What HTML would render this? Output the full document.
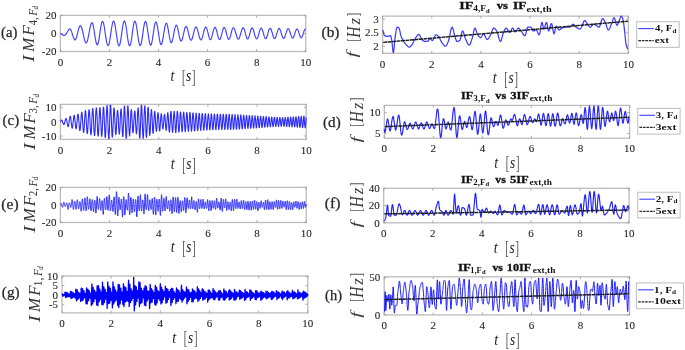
<!DOCTYPE html>
<html><head><meta charset="utf-8"><title>figure</title><style>
html,body{margin:0;padding:0;background:#fff;}
svg{display:block;filter:blur(0.35px);}
text{font-family:"Liberation Serif",serif;fill:#262626;}
.tk{font-size:11px;stroke:#262626;stroke-width:0.1px;}
.pl{stroke:#262626;stroke-width:0.25px;}
.tt{stroke:#111;stroke-width:0.3px;}
</style></head>
<body><svg width="685" height="350" viewBox="0 0 685 350">
<rect width="685" height="350" fill="#fff"/>
<rect x="60.4" y="15.4" width="245.30" height="36.10" fill="none" stroke="#bcbcbc" stroke-width="1.3"/>
<path d="M60.40 51.5v-2.4M60.40 15.4v2.4" stroke="#9a9a9a" stroke-width="0.8"/>
<text x="60.40" y="65.70" text-anchor="middle" class="tk">0</text>
<path d="M109.46 51.5v-2.4M109.46 15.4v2.4" stroke="#9a9a9a" stroke-width="0.8"/>
<text x="109.46" y="65.70" text-anchor="middle" class="tk">2</text>
<path d="M158.52 51.5v-2.4M158.52 15.4v2.4" stroke="#9a9a9a" stroke-width="0.8"/>
<text x="158.52" y="65.70" text-anchor="middle" class="tk">4</text>
<path d="M207.58 51.5v-2.4M207.58 15.4v2.4" stroke="#9a9a9a" stroke-width="0.8"/>
<text x="207.58" y="65.70" text-anchor="middle" class="tk">6</text>
<path d="M256.64 51.5v-2.4M256.64 15.4v2.4" stroke="#9a9a9a" stroke-width="0.8"/>
<text x="256.64" y="65.70" text-anchor="middle" class="tk">8</text>
<path d="M305.70 51.5v-2.4M305.70 15.4v2.4" stroke="#9a9a9a" stroke-width="0.8"/>
<text x="305.70" y="65.70" text-anchor="middle" class="tk">10</text>
<path d="M60.4 51.50h2.4M305.7 51.50h-2.4" stroke="#9a9a9a" stroke-width="0.8"/>
<text x="56.50" y="55.20" text-anchor="end" class="tk">-20</text>
<path d="M60.4 33.45h2.4M305.7 33.45h-2.4" stroke="#9a9a9a" stroke-width="0.8"/>
<text x="56.50" y="37.15" text-anchor="end" class="tk">0</text>
<path d="M60.4 15.40h2.4M305.7 15.40h-2.4" stroke="#9a9a9a" stroke-width="0.8"/>
<text x="56.50" y="19.10" text-anchor="end" class="tk">20</text>
<text x="170.38" y="81.30" style="font-size:16.5px;font-style:italic;" textLength="3.96" lengthAdjust="spacingAndGlyphs">t</text>
<text x="181.88" y="82.70" style="font-size:17.9px;fill:#4a4a4a;" textLength="3.40" lengthAdjust="spacingAndGlyphs">[</text>
<text x="186.07" y="81.30" style="font-size:16.5px;font-style:italic;" textLength="5.17" lengthAdjust="spacingAndGlyphs">s</text>
<text x="192.03" y="82.70" style="font-size:17.9px;fill:#4a4a4a;" textLength="3.48" lengthAdjust="spacingAndGlyphs">]</text>
<rect x="60.4" y="104.4" width="245.80" height="35.00" fill="none" stroke="#bcbcbc" stroke-width="1.3"/>
<path d="M60.40 139.4v-2.4M60.40 104.4v2.4" stroke="#9a9a9a" stroke-width="0.8"/>
<text x="60.40" y="153.60" text-anchor="middle" class="tk">0</text>
<path d="M109.56 139.4v-2.4M109.56 104.4v2.4" stroke="#9a9a9a" stroke-width="0.8"/>
<text x="109.56" y="153.60" text-anchor="middle" class="tk">2</text>
<path d="M158.72 139.4v-2.4M158.72 104.4v2.4" stroke="#9a9a9a" stroke-width="0.8"/>
<text x="158.72" y="153.60" text-anchor="middle" class="tk">4</text>
<path d="M207.88 139.4v-2.4M207.88 104.4v2.4" stroke="#9a9a9a" stroke-width="0.8"/>
<text x="207.88" y="153.60" text-anchor="middle" class="tk">6</text>
<path d="M257.04 139.4v-2.4M257.04 104.4v2.4" stroke="#9a9a9a" stroke-width="0.8"/>
<text x="257.04" y="153.60" text-anchor="middle" class="tk">8</text>
<path d="M306.20 139.4v-2.4M306.20 104.4v2.4" stroke="#9a9a9a" stroke-width="0.8"/>
<text x="306.20" y="153.60" text-anchor="middle" class="tk">10</text>
<path d="M60.4 136.01h2.4M306.2 136.01h-2.4" stroke="#9a9a9a" stroke-width="0.8"/>
<text x="56.50" y="139.71" text-anchor="end" class="tk">-10</text>
<path d="M60.4 121.90h2.4M306.2 121.90h-2.4" stroke="#9a9a9a" stroke-width="0.8"/>
<text x="56.50" y="125.60" text-anchor="end" class="tk">0</text>
<path d="M60.4 107.79h2.4M306.2 107.79h-2.4" stroke="#9a9a9a" stroke-width="0.8"/>
<text x="56.50" y="111.49" text-anchor="end" class="tk">10</text>
<text x="170.63" y="169.20" style="font-size:16.5px;font-style:italic;" textLength="3.96" lengthAdjust="spacingAndGlyphs">t</text>
<text x="182.13" y="170.60" style="font-size:17.9px;fill:#4a4a4a;" textLength="3.40" lengthAdjust="spacingAndGlyphs">[</text>
<text x="186.32" y="169.20" style="font-size:16.5px;font-style:italic;" textLength="5.17" lengthAdjust="spacingAndGlyphs">s</text>
<text x="192.28" y="170.60" style="font-size:17.9px;fill:#4a4a4a;" textLength="3.48" lengthAdjust="spacingAndGlyphs">]</text>
<rect x="60.4" y="187.4" width="245.80" height="35.10" fill="none" stroke="#bcbcbc" stroke-width="1.3"/>
<path d="M60.40 222.5v-2.4M60.40 187.4v2.4" stroke="#9a9a9a" stroke-width="0.8"/>
<text x="60.40" y="236.70" text-anchor="middle" class="tk">0</text>
<path d="M109.56 222.5v-2.4M109.56 187.4v2.4" stroke="#9a9a9a" stroke-width="0.8"/>
<text x="109.56" y="236.70" text-anchor="middle" class="tk">2</text>
<path d="M158.72 222.5v-2.4M158.72 187.4v2.4" stroke="#9a9a9a" stroke-width="0.8"/>
<text x="158.72" y="236.70" text-anchor="middle" class="tk">4</text>
<path d="M207.88 222.5v-2.4M207.88 187.4v2.4" stroke="#9a9a9a" stroke-width="0.8"/>
<text x="207.88" y="236.70" text-anchor="middle" class="tk">6</text>
<path d="M257.04 222.5v-2.4M257.04 187.4v2.4" stroke="#9a9a9a" stroke-width="0.8"/>
<text x="257.04" y="236.70" text-anchor="middle" class="tk">8</text>
<path d="M306.20 222.5v-2.4M306.20 187.4v2.4" stroke="#9a9a9a" stroke-width="0.8"/>
<text x="306.20" y="236.70" text-anchor="middle" class="tk">10</text>
<path d="M60.4 222.50h2.4M306.2 222.50h-2.4" stroke="#9a9a9a" stroke-width="0.8"/>
<text x="56.50" y="226.20" text-anchor="end" class="tk">-20</text>
<path d="M60.4 204.95h2.4M306.2 204.95h-2.4" stroke="#9a9a9a" stroke-width="0.8"/>
<text x="56.50" y="208.65" text-anchor="end" class="tk">0</text>
<path d="M60.4 187.40h2.4M306.2 187.40h-2.4" stroke="#9a9a9a" stroke-width="0.8"/>
<text x="56.50" y="191.10" text-anchor="end" class="tk">20</text>
<text x="170.63" y="252.30" style="font-size:16.5px;font-style:italic;" textLength="3.96" lengthAdjust="spacingAndGlyphs">t</text>
<text x="182.13" y="253.70" style="font-size:17.9px;fill:#4a4a4a;" textLength="3.40" lengthAdjust="spacingAndGlyphs">[</text>
<text x="186.32" y="252.30" style="font-size:16.5px;font-style:italic;" textLength="5.17" lengthAdjust="spacingAndGlyphs">s</text>
<text x="192.28" y="253.70" style="font-size:17.9px;fill:#4a4a4a;" textLength="3.48" lengthAdjust="spacingAndGlyphs">]</text>
<rect x="62.0" y="276.0" width="245.80" height="36.90" fill="none" stroke="#bcbcbc" stroke-width="1.3"/>
<path d="M62.00 312.9v-2.4M62.00 276.0v2.4" stroke="#9a9a9a" stroke-width="0.8"/>
<text x="62.00" y="327.10" text-anchor="middle" class="tk">0</text>
<path d="M111.16 312.9v-2.4M111.16 276.0v2.4" stroke="#9a9a9a" stroke-width="0.8"/>
<text x="111.16" y="327.10" text-anchor="middle" class="tk">2</text>
<path d="M160.32 312.9v-2.4M160.32 276.0v2.4" stroke="#9a9a9a" stroke-width="0.8"/>
<text x="160.32" y="327.10" text-anchor="middle" class="tk">4</text>
<path d="M209.48 312.9v-2.4M209.48 276.0v2.4" stroke="#9a9a9a" stroke-width="0.8"/>
<text x="209.48" y="327.10" text-anchor="middle" class="tk">6</text>
<path d="M258.64 312.9v-2.4M258.64 276.0v2.4" stroke="#9a9a9a" stroke-width="0.8"/>
<text x="258.64" y="327.10" text-anchor="middle" class="tk">8</text>
<path d="M307.80 312.9v-2.4M307.80 276.0v2.4" stroke="#9a9a9a" stroke-width="0.8"/>
<text x="307.80" y="327.10" text-anchor="middle" class="tk">10</text>
<path d="M62.0 304.33h2.4M307.8 304.33h-2.4" stroke="#9a9a9a" stroke-width="0.8"/>
<text x="58.10" y="308.03" text-anchor="end" class="tk">-5</text>
<path d="M62.0 295.01h2.4M307.8 295.01h-2.4" stroke="#9a9a9a" stroke-width="0.8"/>
<text x="58.10" y="298.71" text-anchor="end" class="tk">0</text>
<path d="M62.0 285.69h2.4M307.8 285.69h-2.4" stroke="#9a9a9a" stroke-width="0.8"/>
<text x="58.10" y="289.39" text-anchor="end" class="tk">5</text>
<path d="M62.0 276.37h2.4M307.8 276.37h-2.4" stroke="#9a9a9a" stroke-width="0.8"/>
<text x="58.10" y="280.07" text-anchor="end" class="tk">10</text>
<text x="172.23" y="342.70" style="font-size:16.5px;font-style:italic;" textLength="3.96" lengthAdjust="spacingAndGlyphs">t</text>
<text x="183.73" y="344.10" style="font-size:17.9px;fill:#4a4a4a;" textLength="3.40" lengthAdjust="spacingAndGlyphs">[</text>
<text x="187.92" y="342.70" style="font-size:16.5px;font-style:italic;" textLength="5.17" lengthAdjust="spacingAndGlyphs">s</text>
<text x="193.88" y="344.10" style="font-size:17.9px;fill:#4a4a4a;" textLength="3.48" lengthAdjust="spacingAndGlyphs">]</text>
<rect x="382.6" y="16.1" width="245.80" height="37.20" fill="none" stroke="#bcbcbc" stroke-width="1.3"/>
<path d="M382.60 53.3v-2.4M382.60 16.1v2.4" stroke="#9a9a9a" stroke-width="0.8"/>
<text x="382.60" y="67.50" text-anchor="middle" class="tk">0</text>
<path d="M431.76 53.3v-2.4M431.76 16.1v2.4" stroke="#9a9a9a" stroke-width="0.8"/>
<text x="431.76" y="67.50" text-anchor="middle" class="tk">2</text>
<path d="M480.92 53.3v-2.4M480.92 16.1v2.4" stroke="#9a9a9a" stroke-width="0.8"/>
<text x="480.92" y="67.50" text-anchor="middle" class="tk">4</text>
<path d="M530.08 53.3v-2.4M530.08 16.1v2.4" stroke="#9a9a9a" stroke-width="0.8"/>
<text x="530.08" y="67.50" text-anchor="middle" class="tk">6</text>
<path d="M579.24 53.3v-2.4M579.24 16.1v2.4" stroke="#9a9a9a" stroke-width="0.8"/>
<text x="579.24" y="67.50" text-anchor="middle" class="tk">8</text>
<path d="M628.40 53.3v-2.4M628.40 16.1v2.4" stroke="#9a9a9a" stroke-width="0.8"/>
<text x="628.40" y="67.50" text-anchor="middle" class="tk">10</text>
<path d="M382.6 46.30h2.4M628.4 46.30h-2.4" stroke="#9a9a9a" stroke-width="0.8"/>
<text x="378.70" y="50.00" text-anchor="end" class="tk">2</text>
<path d="M382.6 32.75h2.4M628.4 32.75h-2.4" stroke="#9a9a9a" stroke-width="0.8"/>
<text x="378.70" y="36.45" text-anchor="end" class="tk">2.5</text>
<path d="M382.6 19.19h2.4M628.4 19.19h-2.4" stroke="#9a9a9a" stroke-width="0.8"/>
<text x="378.70" y="22.89" text-anchor="end" class="tk">3</text>
<text x="492.83" y="83.10" style="font-size:16.5px;font-style:italic;" textLength="3.96" lengthAdjust="spacingAndGlyphs">t</text>
<text x="504.33" y="84.50" style="font-size:17.9px;fill:#4a4a4a;" textLength="3.40" lengthAdjust="spacingAndGlyphs">[</text>
<text x="508.52" y="83.10" style="font-size:16.5px;font-style:italic;" textLength="5.17" lengthAdjust="spacingAndGlyphs">s</text>
<text x="514.48" y="84.50" style="font-size:17.9px;fill:#4a4a4a;" textLength="3.48" lengthAdjust="spacingAndGlyphs">]</text>
<rect x="384.3" y="105.4" width="245.30" height="32.80" fill="none" stroke="#bcbcbc" stroke-width="1.3"/>
<path d="M384.30 138.2v-2.4M384.30 105.4v2.4" stroke="#9a9a9a" stroke-width="0.8"/>
<text x="384.30" y="152.40" text-anchor="middle" class="tk">0</text>
<path d="M433.36 138.2v-2.4M433.36 105.4v2.4" stroke="#9a9a9a" stroke-width="0.8"/>
<text x="433.36" y="152.40" text-anchor="middle" class="tk">2</text>
<path d="M482.42 138.2v-2.4M482.42 105.4v2.4" stroke="#9a9a9a" stroke-width="0.8"/>
<text x="482.42" y="152.40" text-anchor="middle" class="tk">4</text>
<path d="M531.48 138.2v-2.4M531.48 105.4v2.4" stroke="#9a9a9a" stroke-width="0.8"/>
<text x="531.48" y="152.40" text-anchor="middle" class="tk">6</text>
<path d="M580.54 138.2v-2.4M580.54 105.4v2.4" stroke="#9a9a9a" stroke-width="0.8"/>
<text x="580.54" y="152.40" text-anchor="middle" class="tk">8</text>
<path d="M629.60 138.2v-2.4M629.60 105.4v2.4" stroke="#9a9a9a" stroke-width="0.8"/>
<text x="629.60" y="152.40" text-anchor="middle" class="tk">10</text>
<path d="M384.3 133.57h2.4M629.6 133.57h-2.4" stroke="#9a9a9a" stroke-width="0.8"/>
<text x="380.40" y="137.27" text-anchor="end" class="tk">5</text>
<path d="M384.3 112.55h2.4M629.6 112.55h-2.4" stroke="#9a9a9a" stroke-width="0.8"/>
<text x="380.40" y="116.25" text-anchor="end" class="tk">10</text>
<text x="494.28" y="168.00" style="font-size:16.5px;font-style:italic;" textLength="3.96" lengthAdjust="spacingAndGlyphs">t</text>
<text x="505.78" y="169.40" style="font-size:17.9px;fill:#4a4a4a;" textLength="3.40" lengthAdjust="spacingAndGlyphs">[</text>
<text x="509.97" y="168.00" style="font-size:16.5px;font-style:italic;" textLength="5.17" lengthAdjust="spacingAndGlyphs">s</text>
<text x="515.93" y="169.40" style="font-size:17.9px;fill:#4a4a4a;" textLength="3.48" lengthAdjust="spacingAndGlyphs">]</text>
<rect x="383.7" y="188.3" width="245.40" height="34.50" fill="none" stroke="#bcbcbc" stroke-width="1.3"/>
<path d="M383.70 222.8v-2.4M383.70 188.3v2.4" stroke="#9a9a9a" stroke-width="0.8"/>
<text x="383.70" y="237.00" text-anchor="middle" class="tk">0</text>
<path d="M432.78 222.8v-2.4M432.78 188.3v2.4" stroke="#9a9a9a" stroke-width="0.8"/>
<text x="432.78" y="237.00" text-anchor="middle" class="tk">2</text>
<path d="M481.86 222.8v-2.4M481.86 188.3v2.4" stroke="#9a9a9a" stroke-width="0.8"/>
<text x="481.86" y="237.00" text-anchor="middle" class="tk">4</text>
<path d="M530.94 222.8v-2.4M530.94 188.3v2.4" stroke="#9a9a9a" stroke-width="0.8"/>
<text x="530.94" y="237.00" text-anchor="middle" class="tk">6</text>
<path d="M580.02 222.8v-2.4M580.02 188.3v2.4" stroke="#9a9a9a" stroke-width="0.8"/>
<text x="580.02" y="237.00" text-anchor="middle" class="tk">8</text>
<path d="M629.10 222.8v-2.4M629.10 188.3v2.4" stroke="#9a9a9a" stroke-width="0.8"/>
<text x="629.10" y="237.00" text-anchor="middle" class="tk">10</text>
<path d="M383.7 222.80h2.4M629.1 222.80h-2.4" stroke="#9a9a9a" stroke-width="0.8"/>
<text x="379.80" y="226.50" text-anchor="end" class="tk">0</text>
<path d="M383.7 205.55h2.4M629.1 205.55h-2.4" stroke="#9a9a9a" stroke-width="0.8"/>
<text x="379.80" y="209.25" text-anchor="end" class="tk">20</text>
<path d="M383.7 188.30h2.4M629.1 188.30h-2.4" stroke="#9a9a9a" stroke-width="0.8"/>
<text x="379.80" y="192.00" text-anchor="end" class="tk">40</text>
<text x="493.73" y="252.60" style="font-size:16.5px;font-style:italic;" textLength="3.96" lengthAdjust="spacingAndGlyphs">t</text>
<text x="505.23" y="254.00" style="font-size:17.9px;fill:#4a4a4a;" textLength="3.40" lengthAdjust="spacingAndGlyphs">[</text>
<text x="509.42" y="252.60" style="font-size:16.5px;font-style:italic;" textLength="5.17" lengthAdjust="spacingAndGlyphs">s</text>
<text x="515.38" y="254.00" style="font-size:17.9px;fill:#4a4a4a;" textLength="3.48" lengthAdjust="spacingAndGlyphs">]</text>
<rect x="384.2" y="276.8" width="245.40" height="38.10" fill="none" stroke="#bcbcbc" stroke-width="1.3"/>
<path d="M384.20 314.9v-2.4M384.20 276.8v2.4" stroke="#9a9a9a" stroke-width="0.8"/>
<text x="384.20" y="329.10" text-anchor="middle" class="tk">0</text>
<path d="M433.28 314.9v-2.4M433.28 276.8v2.4" stroke="#9a9a9a" stroke-width="0.8"/>
<text x="433.28" y="329.10" text-anchor="middle" class="tk">2</text>
<path d="M482.36 314.9v-2.4M482.36 276.8v2.4" stroke="#9a9a9a" stroke-width="0.8"/>
<text x="482.36" y="329.10" text-anchor="middle" class="tk">4</text>
<path d="M531.44 314.9v-2.4M531.44 276.8v2.4" stroke="#9a9a9a" stroke-width="0.8"/>
<text x="531.44" y="329.10" text-anchor="middle" class="tk">6</text>
<path d="M580.52 314.9v-2.4M580.52 276.8v2.4" stroke="#9a9a9a" stroke-width="0.8"/>
<text x="580.52" y="329.10" text-anchor="middle" class="tk">8</text>
<path d="M629.60 314.9v-2.4M629.60 276.8v2.4" stroke="#9a9a9a" stroke-width="0.8"/>
<text x="629.60" y="329.10" text-anchor="middle" class="tk">10</text>
<path d="M384.2 314.90h2.4M629.6 314.90h-2.4" stroke="#9a9a9a" stroke-width="0.8"/>
<text x="380.30" y="318.60" text-anchor="end" class="tk">0</text>
<path d="M384.2 277.55h2.4M629.6 277.55h-2.4" stroke="#9a9a9a" stroke-width="0.8"/>
<text x="380.30" y="281.25" text-anchor="end" class="tk">50</text>
<text x="494.23" y="344.70" style="font-size:16.5px;font-style:italic;" textLength="3.96" lengthAdjust="spacingAndGlyphs">t</text>
<text x="505.73" y="346.10" style="font-size:17.9px;fill:#4a4a4a;" textLength="3.40" lengthAdjust="spacingAndGlyphs">[</text>
<text x="509.92" y="344.70" style="font-size:16.5px;font-style:italic;" textLength="5.17" lengthAdjust="spacingAndGlyphs">s</text>
<text x="515.88" y="346.10" style="font-size:17.9px;fill:#4a4a4a;" textLength="3.48" lengthAdjust="spacingAndGlyphs">]</text>
<path transform="scale(0.1)" vector-effect="non-scaling-stroke" d="M604 334l2 1 3 1 2 2 3 1 2 2 3 2 2 2 3 1 2 2 3 2 2 2 2 1 3 1 2 1 3 0 2 0 3 0 2-2 3-1 2-2 3-3 2-3 2-3 3-4 2-4 3-4 2-4 3-5 2-5 3-4 2-4 3-4 2-4 2-3 3-3 2-2 3-2 2 0 3 1 2 1 3 3 2 3 3 5 2 5 2 6 3 7 2 7 3 8 2 8 3 8 2 8 3 7 2 8 3 6 2 6 3 5 2 4 2 2 3 2 2 0 3-2 2-3 3-4 2-6 3-6 2-8 3-9 2-9 2-10 3-10 2-10 3-11 2-10 3-9 2-9 3-7 2-7 3-5 2-4 2-3 3 0 2 0 3 2 2 3 3 5 2 5 3 8 2 8 3 9 2 10 2 10 3 11 2 12 3 11 2 11 3 11 2 11 3 10 2 9 3 8 2 6 2 6 3 3 2 3 3 0 2-1 3-3 2-4 3-6 2-8 3-8 2-11 2-11 3-12 2-12 3-14 2-13 3-13 2-13 3-13 2-12 3-11 2-10 2-9 3-7 2-6 3-3 2-2 3 0 2 2 3 5 2 7 3 9 2 11 2 12 3 14 2 15 3 15 2 16 3 16 2 16 3 16 2 14 3 13 2 12 2 10 3 8 2 6 3 3 2 2 3-2 2-3 3-6 2-9 3-10 2-12 3-14 2-15 2-16 3-16 2-17 3-17 2-17 3-16 2-14 3-14 2-11 3-10 2-7 2-5 3-3 2 0 3 2 2 5 3 7 2 8 3 11 2 12 3 14 2 15 2 16 3 17 2 17 3 16 2 17 3 15 2 15 3 13 2 12 3 10 2 8 2 6 3 4 2 1 3 0 2-4 3-5 2-8 3-10 2-11 3-14 2-14 2-16 3-16 2-17 3-17 2-17 3-17 2-15 3-15 2-13 3-11 2-10 2-7 3-5 2-3 3 0 2 2 3 4 2 7 3 9 2 12 3 13 2 15 2 15 3 17 2 18 3 18 2 17 3 17 2 17 3 15 2 13 3 12 2 10 2 8 3 6 2 2 3 1 2-2 3-5 2-7 3-9 2-11 3-14 2-14 2-16 3-17 2-18 3-18 2-17 3-18 2-16 3-15 2-14 3-12 2-10 3-8 2-5 2-3 3 0 2 2 3 5 2 8 3 9 2 12 3 14 2 16 3 17 2 17 2 18 3 19 2 18 3 17 2 16 3 15 2 13 3 12 2 9 3 6 2 4 2 1 3-1 2-4 3-6 2-9 3-11 2-13 3-15 2-16 3-18 2-18 2-18 3-18 2-17 3-17 2-15 3-14 2-12 3-10 2-7 3-5 2-2 2 0 3 3 2 5 3 8 2 10 3 12 2 14 3 16 2 16 3 17 2 18 2 18 3 17 2 17 3 16 2 14 3 13 2 10 3 9 2 6 3 4 2 1 2-1 3-4 2-7 3-8 2-11 3-13 2-14 3-16 2-16 3-18 2-17 2-18 3-17 2-16 3-15 2-13 3-12 2-10 3-7 2-5 3-3 2 0 2 2 3 6 2 7 3 10 2 12 3 13 2 16 3 16 2 17 3 18 2 17 3 17 2 17 2 15 3 14 2 12 3 11 2 8 3 5 2 3 3 1 2-2 3-5 2-7 2-9 3-11 2-13 3-15 2-16 3-17 2-17 3-17 2-17 3-16 2-15 2-14 3-12 2-11 3-8 2-6 3-3 2-1 3 1 2 4 3 6 2 9 2 11 3 12 2 14 3 15 2 16 3 16 2 17 3 16 2 16 3 15 2 14 2 13 3 10 2 9 3 6 2 5 3 1 2-1 3-3 2-6 3-7 2-10 2-11 3-13 2-14 3-15 2-16 3-15 2-16 3-15 2-14 3-14 2-12 2-10 3-8 2-7 3-4 2-2 3 0 2 2 3 5 2 7 3 9 2 11 2 13 3 13 2 15 3 15 2 15 3 15 2 14 3 14 2 12 3 11 2 8 2 7 3 5 2 3 3 0 2-2 3-4 2-6 3-8 2-10 3-11 2-12 3-13 2-14 2-13 3-14 2-13 3-12 2-11 3-10 2-9 3-6 2-5 3-2 2-1 2 2 3 3 2 5 3 7 2 9 3 10 2 11 3 12 2 12 3 13 2 12 2 12 3 12 2 10 3 9 2 8 3 6 2 4 3 3 2 0 3-1 2-3 2-5 3-7 2-8 3-9 2-10 3-11 2-12 3-11 2-12 3-11 2-10 2-9 3-9 2-7 3-5 2-4 3-2 2-1 3 2 2 2 3 5 2 5 2 8 3 8 2 9 3 10 2 11 3 10 2 11 3 11 2 9 3 10 2 8 2 6 3 6 2 4 3 3 2 0 3 0 2-3 3-4 2-5 3-7 2-8 2-9 3-9 2-10 3-11 2-10 3-10 2-10 3-9 2-8 3-7 2-5 3-4 2-3 2-1 3 0 2 2 3 4 2 5 3 7 2 7 3 9 2 9 3 10 2 10 2 11 3 10 2 9 3 9 2 8 3 7 2 5 3 4 2 3 3 1 2 0 2-3 3-3 2-5 3-7 2-7 3-9 2-9 3-10 2-10 3-10 2-10 2-9 3-9 2-7 3-7 2-5 3-4 2-3 3-1 2 1 3 2 2 4 2 6 3 7 2 8 3 10 2 10 3 10 2 11 3 10 2 10 3 9 2 8 2 7 3 6 2 4 3 2 2 1 3-1 2-3 3-5 2-6 3-7 2-8 2-10 3-10 2-10 3-10 2-10 3-10 2-9 3-8 2-6 3-5 2-4 2-2 3 0 2 2 3 3 2 5 3 6 2 8 3 8 2 10 3 9 2 11 2 10 3 10 2 9 3 8 2 8 3 6 2 5 3 3 2 1 3 0 2-2 3-4 2-5 2-7 3-7 2-9 3-9 2-10 3-10 2-10 3-10 2-9 3-8 2-7 2-5 3-5 2-2 3-1 2 1 3 2 2 4 3 5 2 7 3 8 2 9 2 9 3 10 2 10 3 10 2 9 3 9 2 7 3 7 2 5 3 4 2 2 2 0 3-1 2-3 3-4 2-6 3-7 2-8 3-9 2-9 3-10 2-9 2-10 3-9 2-8 3-7 2-6 3-5 2-3 3-2 2 0 3 1 2 3 2 4 3 5 2 7 3 7 2 8 3 9 2 9 3 9 2 9 3 8 2 8 2 8 3 6 2 5 3 4 2 3 3 1 2 0 3-1 2-3 3-4 2-5 2-7 3-7 2-8 3-8 2-9 3-9 2-9 3-8 2-8 3-7 2-7 2-5 3-4 2-2 3-2 2 1 3 1 2 4 3 5 2 6 3 7 2 9 3 9 2 9 2 10 3 10 2 9 3 8 2 7 3 7 2 5 3 3 2 2 3 0 2-2 2-3 3-5 2-6 3-7 2-8 3-9 2-9 3-10 2-9 3-9 2-9 2-7 3-6 2-5 3-4 2-2 3 0 2 1 3 3 2 4 3 6 2 6 2 8 3 9 2 9 3 9 2 9 3 9 2 8 3 8 2 6 3 6 2 4 2 2 3 1 2 0 3-2 2-3 3-5 2-6 3-7 2-8 3-9 2-9 2-9 3-9 2-8 3-8 2-7 3-6 2-5 3-3 2-2 3-1 2 1 2 3 3 4 2 6 3 7 2 8 3 8 2 9 3 9 2 9 3 9 2 8 2 7 3 7 2 5 3 3 2 2 3 1 2-1 3-3 2-4 3-5 2-6 2-8 3-8 2-9 3-9 2-9 3-9 2-8 3-7 2-6 3-5 2-4 3-3 2 0 2 0 3 3 2 3 3 5 2 7 3 7 2 8 3 8 2 9 3 9 2 8 2 8 3 8 2 6 3 6 2 4 3 2 2 1 3 0 2-2 3-3 2-4 2-6 3-7 2-7 3-9 2-8 3-9 2-8 3-8 2-8 3-7 2-5 2-5 3-3 2-2 3 0 2 1 3 3 2 4 3 5 2 6 3 8 2 7 2 9 3 8 2 8 3 9 2 7 3 7 2 6 3 5 2 3 3 3 2 1 2-1 3-2 2-3 3-4 2-6 3-6 2-8 3-8 2-8 3-8 2-8 2-8 3-7 2-6 3-5 2-4 3-3 2-2 3 0 2 1 3 3 2 3 2 6 3 6 2 7 3 7 2 8 3 8 2 8 3 8 2 7 3 7 2 5 2 4 3 4 2 1 3 1 2-1 3-3 2-3 3-5 2-6 3-6 2-8 3-7 2-8 2-8 3-8 2-7 3-6 2-5 3-5 2-3 3-2 2 0 3 1 2 2 2 4 3 5 2 7 3 7 2 8 3 8 2 8 3 8 2 8 3 6 2 6 2 5 3 3 2 2 3 0 2-1 3-3 2-4 3-6 2-6 3-8 2-7 2-8 3-8 2-8 3-7 2-6 3-6 2-4 3-2 2-2 3 1 2 1" fill="none" stroke="#4040ff" stroke-width="1.15" stroke-linejoin="round"/>
<path transform="scale(0.1)" vector-effect="non-scaling-stroke" d="M604 1217l1-2 1-3 1-2 1-2 2-2 1-2 1-1 1-1 1-1 1 0 1 0 1 0 2 1 1 2 1 2 1 2 1 2 1 3 1 3 1 4 1 3 2 4 1 3 1 3 1 3 1 3 1 2 1 1 1 2 2 0 1 0 1 0 1-2 1-2 1-2 1-3 1-4 1-4 2-4 1-5 1-4 1-5 1-4 1-4 1-4 1-4 2-3 1-3 1-1 1-1 1 0 1 1 1 2 1 3 1 4 2 4 1 6 1 6 1 6 1 7 1 6 1 7 1 6 2 6 1 6 1 4 1 3 1 3 1 1 1-1 1-1 1-3 2-4 1-6 1-6 1-8 1-8 1-9 1-9 1-9 2-8 1-8 1-8 1-6 1-5 1-3 1-2 1 0 1 2 2 3 1 5 1 6 1 8 1 8 1 10 1 10 1 10 2 11 1 10 1 9 1 8 1 8 1 5 1 4 1 2 1 1 2-2 1-4 1-5 1-7 1-9 1-10 1-11 1-11 2-12 1-11 1-11 1-10 1-9 1-7 1-6 1-3 1-2 2 1 1 3 1 5 1 7 1 9 1 10 1 11 1 12 2 12 1 13 1 12 1 11 1 10 1 8 1 6 1 4 1 2 2 0 1-3 1-4 1-7 1-9 1-10 1-12 1-13 2-13 1-14 1-13 1-12 1-12 1-9 1-8 1-5 1-2 2 0 1 2 1 6 1 7 1 10 1 12 1 14 1 14 2 16 1 15 1 15 1 14 1 12 1 10 1 9 1 5 1 3 2-1 1-3 1-7 1-9 1-12 1-13 1-16 1-16 2-18 1-17 1-16 1-15 1-14 1-11 1-8 1-5 1-2 2 1 1 5 1 8 1 11 1 14 1 16 1 18 1 19 2 19 1 19 1 18 1 16 1 14 1 11 1 8 1 5 1 0 2-3 1-7 1-11 1-14 1-16 1-19 1-21 1-21 2-21 1-20 1-18 1-17 1-13 1-10 1-6 1-2 2 2 1 6 1 10 1 14 1 16 1 19 1 21 1 22 1 22 2 22 1 20 1 18 1 15 1 12 1 8 1 3 1 0 2-5 1-9 1-13 1-16 1-19 1-22 1-22 1-23 1-23 2-22 1-19 1-17 1-14 1-10 1-5 1-1 1 4 2 8 1 12 1 16 1 19 1 22 1 23 1 25 1 24 1 23 2 22 1 18 1 16 1 11 1 7 1 3 1-3 1-7 2-12 1-16 1-19 1-23 1-24 1-26 1-25 1-25 1-23 2-20 1-17 1-13 1-8 1-4 1 2 1 7 1 11 2 16 1 20 1 22 1 25 1 26 1 27 1 25 1 24 1 22 2 18 1 14 1 9 1 5 1-1 1-6 1-11 1-16 2-19 1-23 1-25 1-27 1-27 1-27 1-25 1-22 1-19 2-15 1-11 1-5 1 1 1 5 1 11 1 15 1 20 2 23 1 26 1 27 1 28 1 27 1 26 1 23 1 20 1 15 2 11 1 6 1 0 1-6 1-10 1-16 1-20 1-23 2-26 1-27 1-28 1-28 1-26 1-23 1-21 1-15 1-11 2-6 1 0 1 5 1 10 1 16 1 20 1 23 1 26 2 28 1 28 1 28 1 26 1 24 1 20 1 16 1 11 1 6 2 0 1-5 1-11 1-16 1-20 1-23 1-27 1-28 2-28 1-28 1-27 1-24 1-21 1-16 1-12 1-6 1 0 2 5 1 11 1 16 1 21 1 25 1 28 1 29 1 31 2 29 1 29 1 25 1 22 1 16 1 12 1 6 1 0 1-7 2-12 1-18 1-23 1-27 1-29 1-32 1-32 1-31 2-30 1-26 1-22 1-17 1-11 1-5 1 2 1 8 1 15 2 19 1 25 1 28 1 31 1 33 1 33 1 32 1 29 2 26 1 22 1 16 1 10 1 4 1-3 1-10 1-16 1-21 2-26 1-30 1-32 1-33 1-34 1-32 1-29 1-26 2-21 1-14 1-8 1 0 1 5 1 12 1 18 1 23 1 27 2 30 1 32 1 32 1 31 1 29 1 26 1 22 1 17 2 11 1 5 1-1 1-7 1-13 1-17 1-23 1-25 1-28 2-29 1-30 1-28 1-26 1-22 1-19 1-13 1-9 2-2 1 2 1 8 1 14 1 17 1 22 1 24 1 26 1 27 2 26 1 25 1 23 1 19 1 16 1 11 1 6 1 0 2-4 1-9 1-14 1-18 1-21 1-23 1-24 1-24 1-24 2-22 1-20 1-16 1-12 1-8 1-4 1 2 1 5 2 9 1 14 1 17 1 20 1 22 1 24 1 23 1 24 1 21 2 19 1 16 1 12 1 7 1 3 1-3 1-7 1-12 2-17 1-19 1-23 1-24 1-26 1-25 1-24 1-21 1-19 2-15 1-11 1-6 1-1 1 5 1 10 1 16 1 19 2 23 1 26 1 28 1 28 1 28 1 26 1 23 1 19 1 15 2 9 1 3 1-2 1-9 1-15 1-20 1-24 1-28 2-31 1-31 1-32 1-29 1-27 1-22 1-18 1-12 1-5 2 1 1 7 1 14 1 20 1 24 1 29 1 31 1 33 2 33 1 32 1 29 1 25 1 21 1 15 1 8 1 1 1-5 2-12 1-19 1-24 1-28 1-32 1-34 1-34 1-34 2-31 1-27 1-21 1-15 1-9 1-2 1 5 1 11 1 18 2 22 1 26 1 29 1 31 1 31 1 30 1 28 1 24 2 20 1 15 1 9 1 4 1-3 1-9 1-13 1-19 1-22 2-24 1-27 1-27 1-26 1-25 1-22 1-18 1-15 2-9 1-5 1 1 1 6 1 10 1 15 1 19 1 21 1 24 2 24 1 24 1 22 1 21 1 17 1 14 1 9 1 5 2 0 1-4 1-9 1-12 1-17 1-18 1-20 1-22 1-22 2-21 1-21 1-18 1-15 1-11 1-7 1-2 1 2 2 7 1 11 1 16 1 18 1 22 1 23 1 24 1 23 2 22 1 20 1 17 1 13 1 8 1 3 1-2 1-6 1-11 2-16 1-20 1-23 1-25 1-27 1-27 1-26 1-24 2-20 1-16 1-11 1-5 1 1 1 7 1 12 1 19 1 23 2 27 1 30 1 32 1 32 1 30 1 28 1 24 1 19 2 13 1 6 1-1 1-8 1-15 1-21 1-27 1-32 1-35 2-35 1-35 1-33 1-29 1-24 1-19 1-12 1-5 2 2 1 10 1 16 1 23 1 27 1 32 1 34 1 35 1 34 2 33 1 29 1 24 1 18 1 12 1 5 1-3 1-9 2-17 1-22 1-28 1-31 1-34 1-34 1-34 1-32 1-28 2-23 1-18 1-11 1-4 1 4 1 10 1 17 1 22 2 27 1 31 1 32 1 34 1 32 1 30 1 27 1 22 1 16 2 10 1 3 1-4 1-10 1-17 1-22 1-27 1-29 2-32 1-32 1-31 1-28 1-25 1-20 1-15 1-8 1-2 2 5 1 11 1 17 1 22 1 25 1 29 1 29 1 30 2 29 1 26 1 22 1 18 1 12 1 7 1 0 1-6 1-11 2-16 1-21 1-24 1-27 1-27 1-28 1-26 1-23 2-20 1-15 1-10 1-5 1 1 1 6 1 11 1 17 1 19 2 23 1 25 1 25 1 25 1 24 1 21 1 17 1 13 2 9 1 3 1-2 1-7 1-12 1-16 1-19 1-22 1-23 2-23 1-23 1-21 1-19 1-14 1-11 1-6 1-2 2 3 1 8 1 12 1 16 1 18 1 20 1 22 1 21 1 20 2 19 1 16 1 12 1 9 1 4 1 0 1-4 1-8 2-12 1-15 1-17 1-20 1-20 1-20 1-19 1-17 1-15 2-11 1-7 1-3 1 1 1 5 1 10 1 13 1 15 2 18 1 20 1 19 1 20 1 17 1 16 1 13 1 9 1 6 2 1 1-2 1-7 1-11 1-14 1-16 1-18 1-19 2-18 1-18 1-15 1-13 1-11 1-6 1-3 1 1 1 5 2 8 1 11 1 13 1 15 1 16 1 16 1 16 1 15 2 12 1 11 1 7 1 4 1 1 1-1 1-5 1-7 1-11 2-12 1-15 1-15 1-16 1-15 1-15 1-13 1-10 2-7 1-4 1 0 1 3 1 6 1 10 1 13 1 15 1 16 2 18 1 17 1 16 1 15 1 12 1 10 1 6 1 2 2-1 1-6 1-9 1-13 1-15 1-17 1-19 1-19 1-18 2-17 1-15 1-13 1-8 1-5 1 0 1 4 1 9 2 12 1 16 1 18 1 20 1 22 1 21 1 20 1 17 1 15 2 11 1 7 1 2 1-2 1-8 1-12 1-16 1-20 2-22 1-22 1-23 1-22 1-20 1-16 1-13 1-8 1-3 2 1 1 7 1 11 1 16 1 18 1 22 1 22 1 24 2 22 1 21 1 17 1 15 1 9 1 5 1 0 1-5 1-9 2-15 1-18 1-20 1-23 1-23 1-23 1-22 1-19 2-15 1-12 1-6 1-2 1 4 1 9 1 13 1 17 1 20 2 22 1 24 1 23 1 22 1 20 1 17 1 13 1 7 2 3 1-2 1-7 1-12 1-17 1-19 1-22 1-24 1-23 2-23 1-21 1-18 1-13 1-10 1-3 1 1 1 7 2 11 1 15 1 19 1 22 1 23 1 23 1 23 1 20 1 18 2 14 1 9 1 5 1-1 1-5 1-10 1-14 1-18 2-20 1-22 1-22 1-22 1-20 1-18 1-14 1-10 1-6 2 0 1 4 1 9 1 13 1 16 1 20 1 21 1 22 2 22 1 20 1 18 1 14 1 11 1 6 1 2 1-4 1-8 2-13 1-16 1-19 1-21 1-21 1-22 1-20 1-18 2-15 1-11 1-7 1-2 1 3 1 8 1 12 1 16 2 18 1 21 1 21 1 22 1 20 1 18 1 15 1 12 1 7 2 2 1-3 1-7 1-12 1-15 1-19 1-20 1-21 2-22 1-20 1-18 1-15 1-11 1-7 1-3 1 3 1 7 2 11 1 16 1 18 1 20 1 21 1 21 1 20 1 18 2 15 1 12 1 6 1 3 1-3 1-7 1-11 1-16 1-18 2-20 1-21 1-21 1-19 1-18 1-15 1-11 1-7 2-2 1 3 1 7 1 12 1 15 1 18 1 20 1 21 1 21 2 19 1 18 1 14 1 11 1 6 1 2 1-3 1-8 2-12 1-15 1-18 1-20 1-21 1-20 1-20 1-17 1-14 2-10 1-5 1-1 1 3 1 8 1 12 1 16 1 18 2 20 1 21 1 20 1 19 1 16 1 13 1 10 1 5 1 0 2-4 1-9 1-12 1-16 1-18 1-20 1-21 1-20 2-18 1-16 1-12 1-9 1-4 1 0 1 5 1 10 1 13 2 16 1 19 1 20 1 20 1 19 1 18 1 15 1 12 2 7 1 3 1-1 1-6 1-10 1-14 1-17 1-19 1-19 2-20 1-19 1-17 1-14 1-11 1-6 1-2 1 3 2 7 1 11 1 14 1 17 1 19 1 20 1 19 1 18 1 16 2 13 1 10 1 5 1 1 1-4 1-8 1-12 1-16 2-17 1-19 1-20 1-19 1-17 1-15 1-12 1-8 1-3 2 0 1 6 1 9 1 13 1 16 1 18 1 19 1 19 2 18 1 17 1 14 1 10 1 6 1 2 1-2 1-7 1-10 2-14 1-17 1-18 1-19 1-19 1-17 1-16 1-12 2-9 1-4 1-1 1 4 1 8 1 12 1 15 1 17 1 19 2 18 1 19 1 16 1 14 1 11 1 7 1 3 1-2 2-5 1-10 1-13 1-16 1-17 1-19 1-18 1-18 1-15 2-13 1-9 1-5 1-1 1 4 1 7 1 11 1 14 2 17 1 18 1 19 1 18 1 16 1 14 1 11 1 7 1 3 2-1 1-5 1-9 1-13 1-16 1-17 1-18 1-19 2-17 1-15 1-13 1-9 1-5 1-1 1 3 1 8 1 11 2 14 1 17 1 18 1 18 1 18 1 16 1 14 1 11 2 7 1 3 1-2 1-5 1-10 1-13 1-15 1-18 1-18 2-19 1-17 1-15 1-12 1-8 1-5 1 0 1 4 2 8 1 11 1 15 1 17 1 18 1 18 1 18 1 16 1 13 2 10 1 6 1 2 1-2 1-6 1-11 1-13 1-16 2-18 1-19 1-18 1-16 1-15 1-11 1-7 1-4 1 1 2 5 1 9 1 13 1 15 1 17 1 18 1 19 1 17 2 15 1 12 1 9 1 5 1 0 1-3 1-8 1-12 1-14 2-17 1-18 1-18 1-18 1-15 1-14 1-10 1-6 2-1 1 2 1 7 1 10 1 14 1 16 1 18 1 18 1 18 2 16 1 14 1 11 1 7 1 3 1-1 1-6 1-9 2-13 1-16 1-17 1-19 1-18 1-16 1-15 1-12 1-8 2-4 1 1 1 5 1 8 1 13 1 15 1 17 1 18 2 18 1 17 1 15 1 12 1 9 1 5 1 0 1-4 1-8 2-11 1-15 1-16 1-18 1-19 1-17 1-15 1-13 2-10 1-5 1-1 1 3 1 7 1 11 1 14 1 17 1 18 2 18 1 17 1 16 1 13 1 10 1 6 1 2 1-3 2-6 1-11 1-14 1-16 1-17 1-19 1-17 1-16 1-14 2-10 1-6 1-3 1 2 1 7 1 10 1 13 1 16 2 18 1 18 1 18 1 16 1 13 1 11 1 7 1 2 1-1 2-6 1-10 1-14 1-15 1-18 1-18 1-17 1-17 2-14 1-10 1-7 1-3 1 2 1 5 1 10 1 13 2 16 1 17 1 18 1 18 1 16 1 14 1 11 1 6 1 3 2-1 1-6 1-10 1-13 1-15 1-17 1-18 1-17 2-16 1-14 1-11 1-7 1-2 1 1 1 6 1 9 1 13 2 16 1 17 1 17 1 18 1 15 1 14 1 10 1 7 2 3 1-2 1-6 1-10 1-13 1-15 1-17 1-17 1-17 2-16 1-13 1-10 1-6 1-3 1 2 1 6 1 10 2 13 1 15 1 17 1 18 1 16 1 16 1 12 1 10 1 6 2 2 1-3 1-6 1-10 1-13 1-16 1-16 1-17 2-17 1-15 1-12 1-9 1-6 1-1 1 3 1 7 1 10 2 14 1 15 1 17 1 17 1 16 1 14 1 12 1 8 2 5 1 1 1-4 1-7 1-11 1-13 1-16 1-17 1-16 2-16 1-14 1-11 1-8 1-4 1 0 1 5 1 7 2 12 1 14 1 15 1 17 1 16 1 15 1 14 1 10 1 7 2 3 1-1 1-5 1-8 1-12 1-14 1-16 1-16 2-17 1-14 1-13 1-9 1-6 1-2 1 1 1 6 1 10 2 12 1 14 1 16 1 16 1 16 1 14 1 12 1 8 2 5 1 1 1-2 1-7 1-10 1-13 1-15 1-16 1-16 2-15 1-13 1-11 1-7 1-4 1 0 1 4 1 8 2 10 1 14 1 15 1 16 1 15 1 15 1 12 1 10 1 6 2 3 1-2 1-5 1-8 1-12 1-14 1-15 1-16 2-15 1-14 1-11 1-9 1-5 1-1 1 3 1 6 1 10 2 12 1 14 1 16 1 15 1 15 1 13 1 10 1 7 2 4 1-1 1-4 1-7 1-11 1-13 1-14 1-16 1-15 2-14 1-11 1-9 1-6 1-2 1 2 1 5 1 9 2 11 1 14 1 15 1 15 1 14 1 13 1 11 1 8 1 4 2 0 1-3 1-7 1-10 1-12 1-14 1-15 1-15 2-14 1-12 1-9 1-6 1-2 1 1 1 5 1 8 1 11 2 13 1 14 1 15 1 14 1 13 1 11 1 7 1 4 2 1 1-3 1-6 1-10 1-12 1-13 1-15 1-14 1-13 2-12 1-9 1-6 1-2 1 1 1 5 1 8 1 10 2 13 1 14 1 14 1 14 1 12 1 10 1 7 1 4 1 1 2-3 1-7 1-9 1-11 1-14 1-13 1-14 1-13 2-11 1-8 1-6 1-2 1 2 1 4 1 8 1 11 1 12 2 13 1 14 1 13 1 12 1 9 1 7 1 3 1 0 2-3 1-7 1-9 1-11 1-13 1-14 1-13 1-12 1-10 2-8 1-4 1-2 1 2 1 6 1 8 1 10 1 12 2 13 1 14 1 12 1 11 1 8 1 6 1 2 1 0 1-4 2-7 1-10 1-11 1-13 1-13 1-12 1-11 1-10 2-6 1-4 1 0 1 3 1 6 1 8 1 11 1 12 1 12 2 13 1 11 1 10 1 7 1 5 1 1 1-1 1-5 2-8 1-10 1-11 1-13 1-12 1-12 1-10 1-8 1-5 2-3 1 1 1 4 1 7 1 9 1 11 1 12 1 12 2 12 1 11 1 8 1 6 1 3 1 1 1-4 1-6 1-8 2-10 1-12 1-12 1-12 1-11 1-9 1-6 1-4 2-1 1 2 1 5 1 8 1 10 1 11 1 12 1 12 1 11 2 9 1 7 1 5 1 1 1-1 1-5 1-7 1-9 2-11 1-12 1-12 1-11 1-9 1-8 1-4 1-2 1 0 2 4 1 7 1 9 1 10 1 12 1 11 1 11 1 10 2 8 1 5 1 3 1-1 1-3 1-6 1-9 1-10 1-11 2-11 1-11 1-10 1-8 1-6 1-3 1 0 1 3 2 6 1 8 1 10 1 10 1 12 1 11 1 9 1 9 1 5 2 4 1 0 1-2 1-6 1-7 1-10 1-10 1-11 2-11 1-10 1-9 1-6 1-4 1 0 1 2 1 5 2 7 1 9 1 11 1 11 1 12 1 10 1 9 1 6 1 4 2 1 1-2 1-4 1-8 1-9 1-11 1-12 1-11 2-11 1-9 1-7 1-4 1-1 1 2 1 4 1 8 1 9 2 11 1 12 1 12 1 11 1 9 1 7 1 4 1 2 2-2 1-5 1-7 1-10 1-11 1-12 1-12 1-11 1-9 2-8 1-4 1-2 1 2 1 5 1 8 1 9 1 12 2 12 1 12 1 11 1 10 1 7 1 5 1 1 1-1 1-5 2-8 1-10 1-12 1-12 1-13 1-11 1-10 1-7 2-5 1-1 1 2 1 5 1 8 1 10 1 12 1 13 1 12 2 12 1 10 1 7 1 5 1 1 1-2 1-6 1-8 2-11 1-12 1-13 1-13 1-11 1-10 1-7 1-5 1-1 2 3 1 6 1 8 1 11 1 13 1 13 1 13 1 12 2 10 1 7 1 4 1 0 1-3 1-6 1-9 1-11 1-13 2-14 1-13 1-12 1-9 1-7 1-4 1 0 1 3 2 7 1 10 1 12 1 13 1 14 1 13 1 12 1 9 1 7 2 3 1 0 1-4 1-7 1-11 1-12 1-14 1-14 2-13 1-12 1-10 1-6 1-3 1 1 1 5 1 8 1 11 2 13 1 14 1 15 1 13 1 12 1 9 1 6 1 2 2-2 1-5 1-9 1-12 1-14 1-14 1-15 1-13 1-12 2-9 1-5 1-1 1 3 1 6 1 10 1 13 1 14 2 15 1 15 1 13 1 11 1 8 1 4 1 1 1-4 1-7 2-11 1-13 1-15 1-16 1-14 1-14 1-10 1-7 2-4 1 1 1 5 1 8 1 12 1 14 1 15 1 16 1 15 2 13 1 9 1 7 1 2 1-2 1-6 1-9 1-13 2-15 1-16 1-16 1-14 1-13" fill="none" stroke="#2a2aff" stroke-width="1.1" stroke-linejoin="round"/>
<path transform="scale(0.1)" vector-effect="non-scaling-stroke" d="M604 2047l1-2 1-2 0-3 1-1 1-2 1-1 1 0 1-1 0 1 1 0 1 1 1 2 1 2 0 2 1 2 1 3 1 3 1 4 1 4 0 4 1 3 1 3 1 2 1 1 0 1 1 0 1-1 1-2 1-2 1-3 0-3 1-4 1-4 1-5 1-5 1-4 0-5 1-4 1-3 1-3 1-2 0-1 1 0 1 0 1 2 1 2 1 4 0 4 1 4 1 5 1 6 1 3 0 3 1 3 1 2 1 2 1 2 1 1 0 1 1 0 1 0 1-1 1-2 0-2 1-2 1-3 1-3 1-3 1-4 0-3 1-4 1-3 1-3 1-2 0-1 1-1 1 0 1 0 1 1 1 2 0 3 1 3 1 3 1 4 1 4 0 8 1 8 1 7 1 7 1 6 1 4 0 3 1 2 1 0 1-2 1-3 1-4 0-6 1-7 1-7 1-9 1-7 0-4 1-4 1-4 1-3 1-2 1-2 0-2 1 0 1 0 1 1 1 2 0 2 1 3 1 4 1 4 1 4 1 5 0 4 1 4 1 4 1 4 1 2 0 2 1 1 1 0 1 0 1-2 1-3 0-3 1-4 1-4 1-5 1-6 0-10 1-10 1-9 1-8 1-6 1-5 0-3 1-1 1 1 1 3 1 5 0 7 1 8 1 9 1 11 1 10 1 9 0 8 1 8 1 7 1 6 1 4 0 3 1 1 1-1 1-2 1-4 1-5 0-7 1-8 1-8 1-9 1-8 1-7 0-6 1-6 1-5 1-4 1-2 0-1 1 0 1 2 1 3 1 5 1 5 0 7 1 7 1 7 1 9 1 8 0 8 1 7 1 6 1 4 1 3 1 1 1-3 1-4 1-5 1-7 0-8 1-9 1-9 1-10 1-10 1-9 0-8 1-6 1-5 1-3 1-1 0 1 1 3 1 6 1 7 1 8 1 10 0 10 1 10 1 7 1 7 1 7 0 5 1 5 1 3 1 2 1 0 1-2 0-3 1-4 1-6 1-6 1-7 1-8 0-7 1-7 1-6 1-5 1-5 0-3 1-2 1-1 1 0 1 2 1 3 0 5 1 5 1 6 1 7 1 8 0 13 1 12 1 11 1 10 1 7 1 5 0 3 1 0 1-3 1-5 1-7 0-10 1-11 1-13 1-13 1-12 1-12 0-11 1-10 1-7 1-6 1-3 0-1 1 2 1 4 1 7 1 8 1 11 0 12 1 12 1 12 1 11 1 10 0 9 1 7 1 6 1 3 1 1 1-1 0-3 1-6 1-8 1-9 1-11 1-11 0-13 1-15 1-13 1-12 1-10 0-8 1-4 1-2 1 2 1 4 1 8 0 10 1 12 1 14 1 14 1 14 0 12 1 11 1 10 1 9 1 6 1 4 0 1 1-1 1-4 1-7 1-8 0-10 1-12 1-12 1-15 1-17 1-15 0-14 1-11 1-9 1-5 1-2 0 2 1 6 1 8 1 12 1 14 1 16 0 17 1 13 1 9 1 8 1 7 0 6 1 5 1 2 1 1 1-1 1-3 0-5 1-6 1-7 1-9 1-9 1-12 0-12 1-12 1-10 1-9 1-6 0-4 1-1 1 2 1 4 1 7 1 9 0 11 1 12 1 13 1 13 1 12 0 11 1 10 1 8 1 6 1 3 1 1 0-1 1-5 1-7 1-8 1-11 0-12 1-12 1-12 1-11 1-10 1-8 0-8 1-5 1-3 1 0 1 2 0 4 1 6 1 8 1 10 1 10 1 11 0 14 1 14 1 12 1 11 1 9 0 6 1 4 1 0 1-3 1-5 1-8 0-10 1-12 1-14 1-14 1-11 0-10 1-8 1-8 1-6 1-5 1-2 1 2 1 4 1 6 1 8 1 8 0 10 1 11 1 17 1 16 1 15 0 12 1 10 1 7 1 4 1 0 1-4 0-7 1-11 1-13 1-15 1-16 0-18 1-18 1-17 1-15 1-14 1-10 0-7 1-3 1 1 1 4 1 8 0 12 1 14 1 16 1 18 1 16 1 9 0 9 1 8 1 7 1 5 1 3 0 1 1 0 1-3 1-4 1-6 1-8 0-8 1-10 1-11 1-13 1-13 0-12 1-9 1-7 1-4 1-2 1 1 0 4 1 7 1 10 1 11 1 13 1 13 0 13 1 11 1 11 1 9 1 8 0 5 1 4 1 1 1-2 1-4 1-6 0-8 1-10 1-11 1-11 1-10 0-9 1-8 1-8 1-6 1-4 1-2 0-1 1 2 1 3 1 6 1 6 0 8 1 9 1 9 1 19 1 19 1 18 0 15 1 12 1 9 1 4 1 0 0-4 1-8 1-12 1-15 1-18 1-19 0-20 1-14 1-13 1-12 1-11 0-8 1-5 1-3 1 1 1 3 1 7 0 9 1 11 1 12 1 14 1 13 1 11 0 10 1 9 1 7 1 6 1 3 0 2 1-1 1-3 1-5 1-7 1-9 0-10 1-10 1-14 1-18 1-16 0-15 1-12 1-8 1-6 1-1 1 2 0 6 1 9 1 13 1 15 1 16 0 18 1 14 1 11 1 11 1 9 1 7 0 5 1 3 1 1 1-2 1-5 0-6 1-9 1-10 1-11 1-12 1-21 0-21 1-18 1-17 1-12 1-9 0-4 1 0 1 5 1 9 1 13 1 17 0 19 1 21 1 20 1 12 1 12 1 11 0 9 1 7 1 4 1 2 1 0 0-4 1-6 1-8 1-10 1-12 1-12 0-12 1-10 1-10 1-9 1-7 0-5 1-3 1-1 1 1 1 3 1 6 0 7 1 9 1 10 1 11 1 13 0 13 1 12 1 11 1 9 1 6 1 4 1-2 1-6 1-7 1-11 0-12 1-14 1-14 1-17 1-16 1-15 0-12 1-10 1-7 1-3 1 0 0 4 1 8 1 10 1 14 1 15 1 17 0 19 1 20 1 18 1 17 1 14 0 11 1 7 1 2 1-1 1-6 1-11 0-13 1-17 1-19 1-21 1-25 1-28 0-26 1-22 1-18 1-13 1-7 0-1 1 5 1 11 1 16 1 20 1 25 0 26 1 28 1 24 1 23 1 21 0 17 1 14 1 9 1 4 1 0 1-6 0-11 1-15 1-18 1-21 1-23 0-21 1-17 1-16 1-14 1-11 1-9 0-5 1-2 1 2 1 5 1 8 0 12 1 13 1 16 1 16 1 13 1 11 0 10 1 9 1 6 1 5 1 3 1-2 1-4 1-6 1-8 1-9 0-10 1-11 1-13 1-12 1-12 1-9 0-7 1-5 1-2 1 0 1 4 0 5 1 8 1 10 1 12 1 12 1 17 0 26 1 24 1 21 1 18 1 13 0 8 1 3 1-3 1-8 1-14 1-17 0-22 1-24 1-26 1-20 1-17 0-16 1-14 1-11 1-7 1-5 1 0 0 3 1 7 1 11 1 13 1 15 0 18 1 18 1 21 1 21 1 18 1 16 0 12 1 8 1 3 1-1 1-6 0-11 1-14 1-17 1-20 1-22 1-16 0-12 1-10 1-9 1-8 1-5 1-3 0-1 1 1 1 5 1 6 1 8 0 10 1 11 1 12 1 11 1 11 1 9 0 9 1 7 1 4 1 2 1 0 0-3 1-5 1-7 1-9 1-10 1-11 0-16 1-25 1-23 1-21 1-17 0-13 1-8 1-2 1 3 1 8 1 13 0 18 1 21 1 24 1 25 1 22 0 20 1 19 1 16 1 13 1 9 1 5 1-5 1-9 1-12 1-17 0-18 1-21 1-20 1-17 1-15 1-14 0-11 1-9 1-6 1-2 1 2 1 5 0 8 1 12 1 13 1 16 1 16 0 17 1 16 1 16 1 13 1 10 1 8 0 4 1 0 1-3 1-7 1-10 0-13 1-15 1-16 1-16 1-13 1-13 0-11 1-9 1-7 1-5 1-1 0 1 1 3 1 7 1 9 1 10 1 13 0 13 1 14 1 14 1 13 1 12 0 9 1 7 1 3 1 0 1-2 1-6 0-9 1-11 1-13 1-14 1-14 0-12 1-11 1-10 1-8 1-7 1-4 0-1 1 1 1 3 1 6 1 8 0 10 1 11 1 11 1 21 1 25 1 23 0 20 1 16 1 11 1 6 1 1 1-5 0-11 1-15 1-19 1-22 1-25 0-24 1-19 1-18 1-16 1-13 1-10 0-6 1-3 1 2 1 6 1 9 0 13 1 16 1 17 1 18 1 15 1 13 0 11 1 10 1 8 1 5 1 3 1-2 1-6 1-7 1-10 1-11 0-12 1-15 1-23 1-21 1-18 0-16 1-12 1-7 1-2 1 2 1 7 0 12 1 16 1 18 1 21 1 22 0 16 1 13 1 11 1 11 1 8 1 5 0 3 1 0 1-3 1-6 1-8 1-11 0-11 1-13 1-13 1-11 1-10 0-10 1-7 1-6 1-3 1-1 1 1 0 4 1 6 1 8 1 10 1 10 0 11 1 19 1 19 1 17 1 14 1 11 0 8 1 3 1 0 1-5 1-9 0-13 1-15 1-18 1-19 1-22 1-23 0-22 1-20 1-15 1-12 1-6 0-1 1 4 1 9 1 13 1 18 1 21 0 23 1 23 1 11 1 9 1 9 0 8 1 5 1 4 1 2 1-1 1-3 0-6 1-7 1-8 1-10 1-10 1-18 0-22 1-20 1-18 1-14 1-9 0-5 1 0 1 4 1 10 1 14 1 17 0 20 1 21 1 20 1 13 1 12 0 10 1 9 1 7 1 3 1 2 1-2 0-4 1-7 1-10 1-10 1-12 0-13 1-12 1-11 1-9 1-9 1-6 0-4 1-2 1 0 1 3 1 6 0 7 1 9 1 10 1 11 1 11 1 10 0 9 1 8 1 6 1 5 1 2 0 1 1-2 1-4 1-6 1-8 1-9 0-9 1-11 1-14 1-14 1-11 1-10 0-8 1-4 1-2 1 2 1 5 0 7 1 10 1 12 1 13 1 14 1 20 0 20 1 18 1 15 1 12 1 8 0 4 1-1 1-5 1-10 1-13 1-17 0-18 1-21 1-18 1-17 1-15 0-14 1-11 1-7 1-5 1 0 1 3 0 7 1 10 1 13 1 15 1 16 0 18 1 22 1 21 1 18 1 16 1 11 0 7 1 2 1-3 1-7 1-12 0-16 1-18 1-21 1-22 1-14 1-12 0-11 1-9 1-8 1-4 1-2 1 4 1 6 1 8 1 10 1 12 0 12 1 14 1 14 1 12 1 11 1 9 0 6 1 3 1 0 1-3 1-6 0-8 1-11 1-12 1-14 1-14 1-12 0-13 1-10 1-9 1-6 1-4 0-1 1 2 1 5 1 7 1 9 1 12 0 12 1 13 1 23 1 23 1 19 0 17 1 13 1 8 1 3 1-2 1-7 0-12 1-16 1-19 1-22 1-23 0-23 1-22 1-19 1-17 1-14 1-9 0-4 1 1 1 5 1 11 1 14 0 18 1 20 1 22 1 19 1 13 1 13 0 11 1 9 1 6 1 3 1 0 1-2 0-6 1-8 1-11 1-12 1-13 0-15 1-14 1-14 1-13 1-10 1-7 0-5 1-1 1 2 1 6 1 8 0 11 1 13 1 14 1 15 1 13 1 13 0 11 1 9 1 8 1 4 1 2 0-2 1-4 1-7 1-9 1-11 1-12 0-13 1-18 1-18 1-17 1-14 0-11 1-8 1-3 1 1 1 5 1 9 0 13 1 15 1 17 1 19 1 13 0 9 1 8 1 8 1 5 1 4 1 2 1-2 1-4 1-6 1-7 1-8 0-9 1-9 1-10 1-8 1-8 0-6 1-5 1-2 1-1 1 2 1 4 0 5 1 8 1 8 1 9 1 10 0 14 1 13 1 12 1 9 1 7 1 4 0 2 1-2 1-5 1-8 1-10 0-12 1-13 1-14 1-12 1-11 1-9 0-9 1-6 1-4 1-1 1 1 0 4 1 6 1 8 1 9 1 11 1 12 0 18 1 19 1 17 1 14 1 11 0 7 1 3 1-1 1-6 1-9 1-13 0-16 1-18 1-19 1-18 1-17 1-16 0-14 1-10 1-8 1-3 1 1 0 4 1 8 1 12 1 14 1 16 1 18 0 16 1 15 1 13 1 12 1 10 0 6 1 4 1 0 1-4 1-6 1-10 0-11 1-14 1-15 1-15 1-17 0-15 1-13 1-10 1-8 1-4 1-1 0 4 1 6 1 10 1 13 1 14 0 16 1 16 1 17 1 15 1 14 1 11 0 8 1 5 1 1 1-3 1-7 0-9 1-12 1-15 1-16 1-17 1-17 0-16 1-15 1-12 1-9 1-5 0-2 1 3 1 6 1 10 1 12 1 16 0 16 1 18 1 19 1 18 1 16 1 14 0 10 1 6 1 2 1-2 1-7 0-10 1-14 1-16 1-18 1-19 1-10 0-9 1-8 1-7 1-5 1-3 0-2 1 1 1 3 1 5 1 7 1 8 0 9 1 9 1 15 1 14 1 13 0 11 1 9 1 5 1 3 1-2 1-4 0-8 1-10 1-13 1-14 1-15 0-10 1-9 1-8 1-7 1-5 1-4 0-1 1 0 1 3 1 5 1 6 0 7 1 9 1 9 1 12 1 12 1 11 0 10 1 7 1 5 1 2 1 0 1-4 0-6 1-8 1-10 1-12 1-13 0-15 1-16 1-15 1-12 1-10 1-7 0-3 1 1 1 4 1 8 1 11 0 13 1 15 1 17 1 17 1 17 1 16 0 14 1 10 1 7 1 4 1-1 0-4 1-8 1-12 1-14 1-16 1-18 0-16 1-16 1-14 1-13 1-9 0-7 1-3 1 0 1 4 1 7 1 11 0 12 1 15 1 16 1 11 1 8 0 7 1 5 1 5 1 3 1 2 1 0 0-2 1-3 1-5 1-7 1-7 1-7 0-10 1-11 1-10 1-9 1-7 0-5 1-2 1 0 1 3 1 5 1 7 0 9 1 10 1 12 1 10 1 9 0 8 1 7 1 5 1 4 1 2 1 0 0-2 1-4 1-6 1-7 1-9 0-9 1-14 1-18 1-17 1-14 1-11 0-8 1-3 1 0 1 4 1 9 0 12 1 14 1 17 1 18 1 13 1 8 0 8 1 7 1 5 1 4 1 2 0-1 1-2 1-4 1-6 1-7 1-8 0-8 1-10 1-9 1-9 1-7 0-6 1-4 1-2 1 0 1 3 1 4 0 7 1 7 1 9 1 10 1 11 1 10 0 10 1 9 1 6 1 5 1 2 0-1 1-3 1-5 1-7 1-9 1-10 0-11 1-9 1-7 1-7 1-6 0-4 1-3 1-2 1 1 1 2 1 3 0 6 1 6 1 7 1 8 1 14 0 16 1 14 1 13 1 9 1 6 1 3 0-1 1-5 1-8 1-11 1-14 0-15 1-17 1-14 1-13 1-12 1-10 0-8 1-5 1-2 1 1 1 4 0 7 1 10 1 11 1 13 1 14 1 9 0 9 1 7 1 6 1 5 1 3 1 1 0-1 1-3 1-4 1-6 1-8 0-8 1-8 1-13 1-11 1-10 1-9 0-7 1-3 1-2 1 2 1 4 0 7 1 8 1 11 1 11 1 12 1 8 0 7 1 6 1 6 1 4 1 2 0 1 1-2 1-2 1-5 1-5 1-7 0-7 1-9 1-13 1-13 1-10 0-9 1-7 1-3 1-1 1 2 1 5 0 8 1 10 1 12 1 12 1 12 0 9 1 9 1 7 1 6 1 5 1 2 1-2 1-4 1-5 1-7 1-8 0-9 1-9 1-7 1-6 1-6 0-4 1-3 1-2 1 0 1 2 1 3 0 4 1 6 1 7 1 6 1 8 0 8 1 7 1 6 1 4 1 4 1 1 1-2 1-4 1-5 1-6 0-8 1-7 1-11 1-12 1-11 1-9 0-7 1-5 1-2 1 1 1 3 0 7 1 8 1 10 1 12 1 12 1 13 0 13 1 11 1 9 1 7 1 5 0 2 1-2 1-4 1-7 1-9 1-12 0-12 1-13 1-10 1-9 1-8 1-7 0-5 1-3 1-1 1 1 1 4 0 5 1 8 1 8 1 10 1 10 1 13 0 12 1 11 1 9 1 6 1 4 1-2 1-6 1-7 1-10 1-12 0-13 1-12 1-10 1-9 1-8 0-6 1-4 1-3 1 0 1 3 1 4 0 7 1 7 1 10 1 10 1 8 0 8 1 7 1 6 1 4 1 3 1 2 0-1 1-2 1-3 1-6 1-6 0-7 1-8 1-9 1-9 1-9 1-7 0-5 1-4 1-1 1 1 1 3 0 5 1 7 1 8 1 9 1 10 1 10 0 10 1 9 1 7 1 5 1 3 1 1 0-1 1-4 1-6 1-8 1-9 0-10 1-11 1-16 1-14 1-13 1-10 0-7 1-4 1 0 1 3 1 6 0 10 1 12 1 13 1 16 1 11 1 7 0 7 1 6 1 5 1 3 1 1 1-2 1-3 1-5 1-6 1-7 0-7 1-8 1-7 1-6 1-5 0-4 1-3 1-1 1 1 1 2 1 3 0 5 1 6 1 7 1 7 1 12 0 11 1 10 1 9 1 6 1 3 1 1 0-1 1-5 1-6 1-9 1-10 1-12 0-12 1-16 1-14 1-13 1-10 0-8 1-4 1 0 1 3 1 7 1 9 0 13 1 14 1 15 1 15 1 15 0 14 1 11 1 9 1 7 1 2 1 0 0-4 1-7 1-10 1-13 1-14 0-14 1-14 1-12 1-12 1-9 1-7 0-5 1-1 1 1 1 4 1 7 0 9 1 11 1 13 1 12 1 7 1 6 0 6 1 5 1 3 1 2 1 0 0-1 1-2 1-4 1-6 1-6 1-6 0-10 1-14 1-12 1-11 1-9 1-6 0-3 1 0 1 4 1 6 1 9 0 11 1 13 1 13 1 13 1 13 1 11 0 9 1 7 1 5 1 2 1-1 0-4 1-7 1-9 1-10 1-12 1-13 0-7 1-7 1-6 1-6 1-3 0-3 1 0 1 1 1 3 1 4 1 6 0 6 1 8 1 8 1 11 1 9 0 8 1 7 1 5 1 2 1 0 1-3 0-4 1-7 1-8 1-10 1-10 0-8 1-6 1-6 1-5 1-4 1-2 0-1 1 1 1 2 1 3 1 5 1 5 0 6 1 7 1 14 1 12 1 12 0 9 1 7 1 4 1 0 1-2 1-5 0-8 1-10 1-12 1-13 1-14 0-12 1-12 1-10 1-8 1-5 1-3 0 1 1 3 1 6 1 8 1 10 0 12 1 13 1 13 1 13 1 11 1 10 0 8 1 4 1 2 1-1 1-5 0-7 1-10 1-11 1-13 1-13 1-13 0-12 1-11 1-9 1-6 1-3 0-1 1 3 1 5 1 8 1 10 1 12 0 12 1 11 1 8 1 8 1 6 0 5 1 3 1 2 1-1 1-2 1-4 0-6 1-7 1-8 1-8 1-13 1-12 0-11 1-10 1-6 1-4 1-2 0 2 1 5 1 8 1 10 1 11 1 13 0 11 1 8 1 8 1 6 1 5 0 4 1 2 1 0 1-2 1-4 1-5 0-7 1-7 1-8 1-8 1-7 0-6 1-5 1-4 1-2 1-1 1 0 0 3 1 4 1 5 1 6 1 7 0 7 1 9 1 9 1 8 1 6 1 4 0 3 1 0 1-2 1-4 1-6 0-7 1-9 1-9 1-10 1-10 1-9 0-8 1-6 1-3 1-2 1 1 1 3 0 5 1 7 1 9 1 10 1 10 0 8 1 8 1 7 1 6 1 4 1 2 0 1 1-2 1-3 1-5 1-7 0-7 1-8 1-10 1-11 1-10 1-9 0-6 1-5 1-2 1 1 1 3 0 6 1 7 1 10 1 10 1 11 1 11 0 11 1 9 1 8 1 5 1 4 1-1 1-5 1-6 1-9 1-9 0-11 1-10 1-8 1-7 1-6 0-5 1-3 1-1 1 0 1 2 1 4 0 5 1 7 1 7 1 8 1 11 1 10 0 10 1 8 1 5 1 4 1 1 0-2 1-4 1-7 1-8 1-10 1-11 0-10 1-9 1-8 1-7 1-5 0-4 1-1 1 0 1 2 1 5 1 5 0 8 1 8 1 9 1 11 1 12 0 10 1 9 1 6 1 4 1 0 1-1 0-5 1-7 1-9 1-11 1-11 0-11 1-8 1-7 1-7 1-5 1-3 0-1 1 0 1 2 1 4 1 5 0 7 1 8 1 8 1 12 1 12 1 10 0 9 1 7 1 3 1 1 1-2 1-4 0-8 1-9 1-11 1-13 1-11 0-9 1-8 1-7 1-5 1-4 1-2 0 1 1 2 1 5 1 6 1 8 0 8 1 9 1 11 1 9 1 9 1 7 0 5 1 3 1 1 1-2 1-4 0-6 1-8 1-10 1-10 1-10 1-11 0-10 1-9 1-7 1-4 1-2 0 1 1 3 1 6 1 8 1 9 1 11 0 11 1 10 1 9 1 9 1 6 0 5 1 3 1 0 1-2 1-4 1-6 0-8 1-9 1-10 1-8 1-8 0-6 1-6 1-5 1-2 1-1 1 0 0 3 1 4 1 6 1 6 1 7 1 9 0 14 1 13 1 11 1 9 1 6 0 3 1 0 1-3 1-6 1-9 1-11 0-13 1-14 1-7 1-6 1-6 0-4 1-4 1-2 1 0 1 1 1 2 0 3 1 5 1 6 1 6 1 7 0 7 1 8 1 6 1 5 1 4 1 1 1-2 1-4 1-6 1-7 0-7 1-8 1-10 1-9 1-9 1-7 0-5 1-2 1-1 1 2 1 4 0 6 1 8 1 9 1 9 1 8 1 5 0 5 1 4 1 3 1 3 1 0 1 0 0-2 1-3 1-4 1-5 1-5 0-6 1-6 1-6 1-6 1-4 1-3 0-1 1 0 1 1 1 3 1 4 0 6 1 6 1 6 1 11 1 11 1 11 0 8 1 6 1 4 1 1 1-2 0-4 1-7 1-9 1-10 1-12 1-12 0-11 1-11 1-9 1-7 1-4 0-2 1 0 1 4 1 6 1 8 1 10 0 11 1 11 1 11 1 9 1 9 0 7 1 5 1 3 1 0 1-2 1-5 0-7 1-8 1-9 1-11 1-12 1-12 0-11 1-9 1-6 1-5 1-1 0 2 1 4 1 7 1 10 1 11 1 12 0 12 1 11 1 10 1 9 1 7 0 4 1 2 1 0 1-3 1-6 1-8 0-9 1-11 1-11 1-7 1-8 0-6 1-5 1-3 1-2 1-1 1 2 0 3 1 5 1 6 1 7 1 8 0 9 1 10 1 9 1 7 1 6 1 3 0 1 1-1 1-4 1-6 1-8 0-9 1-10 1-9 1-7 1-8 1-6 0-4 1-3 1-2 1 1 1 2 1 4 0 6 1 6 1 8 1 8 1 11 0 10 1 9 1 7 1 5 1 3 1 0 0-2 1-5 1-8 1-8 1-11 0-11 1-8 1-8 1-7 1-6 1-4 0-2 1-1 1 1 1 4 1 4 0 7 1 7 1 8 1 7 1 6 1 5 0 5 1 4 1 2 1 1 1-1 0-2 1-3 1-4 1-6 1-6 1-7 0-12 1-11 1-10 1-7 1-5 0-3 1 1 1 3 1 6 1 8 1 9 0 12 1 11 1 11 1 9 1 9 0 7 1 5 1 3 1 0 1-2 1-4 0-7 1-8 1-9 1-11 1-10 1-10 0-10 1-8 1-5 1-4 1-1 0 2 1 4 1 6 1 8 1 9 1 11 0 10 1 9 1 8 1 7 1 6 0 3 1 2 1-1 1-3 1-5 1-7 0-7 1-9 1-10 1-11 1-10 0-8 1-7 1-5 1-2 1 0 1 3 0 5 1 7 1 9 1 10 1 11 0 9 1 7 1 7 1 6 1 4 1 2 1-1 1-4 1-5 1-7 0-7 1-8 1-9 1-9 1-8 1-7 0-5 1-3 1 0 1 1 1 4 1 5 0 7 1 8 1 9 1 7 1 6 0 4 1 4 1 3 1 2 1 1 1 0 0-2 1-3 1-4 1-5 1-5 0-6 1-9 1-9 1-7 1-5 1-4 0-2 1 1 1 2 1 5 1 6 0 8 1 9 1 9 1 11 1 10 1 9 0 7 1 5 1 3 1 0 1-3 0-5 1-7 1-9 1-11 1-11 1-10 0-10 1-8 1-7 1-5 1-3 1 2 1 4 1 6 1 8 1 10 0 10 1 11 1 10 1 9 1 8 1 6 0 4 1 0 1-1 1-4 1-7 0-8 1-10 1-11 1-9 1-9 1-7 0-7 1-5 1-3 1-1 1 1 0 3 1 5 1 6 1 8 1 8 1 10 0 11 1 11 1 8 1 7 1 5 0 2 1-1 1-4 1-6 1-8 1-10 0-11 1-10 1-5 1-6 1-4 0-4 1-2 1-1 1 0 1 2 1 2 0 4 1 5 1 5 1 6 1 12 0 10 1 10 1 7 1 5 1 3 1 0 0-3 1-5 1-7 1-10 1-10 1-12 0-8 1-7 1-6 1-5 1-4 0-2 1 0 1 1 1 4 1 4 1 6 0 7 1 8 1 6 1 5 1 5 0 4 1 3 1 1 1 1 1-1 1-3 0-3 1-4 1-5 1-6 1-8 0-9 1-8 1-7 1-5 1-3 1-1 0 1 1 4 1 5 1 8 1 8 0 9 1 9 1 8 1 7 1 6 1 5 0 3 1 1 1-1 1-3 1-5 0-6 1-7 1-8 1-8 1-8 1-7 0-6 1-5 1-3 1-1 1 1 0 2 1 5 1 6 1 7 1 7 1 9 0 11 1 10 1 9 1 7 1 4 1 2 0-1 1-3 1-6 1-8 1-10 0-10 1-10 1-6 1-5 1-5 1-3 0-3 1-1 1 1 1 1 1 3 0 4 1 5 1 6 1 6 1 9 1 9 0 8 1 5 1 5 1 1 1 0 0-2 1-5 1-6 1-8 1-9 1-9 0-8 1-7 1-7 1-5 1-3 0-2 1 0 1 2 1 4 1 5 1 7 0 7 1 8 1 8 1 8 1 8 0 5 1 4 1 2 1 0 1-2 1-4 0-5 1-7 1-9 1-8 1-9 1-8 0-7 1-5 1-4 1-2 1-1 0 2 1 4 1 6 1 7 1 7 1 9 0 6 1 5 1 5 1 4 1 3 0 1 1 0 1-1 1-2 1-4 1-5 0-5 1-6 1-8" fill="none" stroke="#2222ff" stroke-width="0.95" stroke-linejoin="round"/>
<path transform="scale(0.1)" vector-effect="non-scaling-stroke" d="M620 2946l1-3 0-3 1-1 1-1 0 1 1 2 1 3 0 3 1 3 1 4 1 4 0 3 1 1 1 1 0-1 1-2 1-3 0-3 1-4 1-3 0-2 1-1 1-1 1 0 1 1 0 2 1 2 1 2 0 2 1 1 1 2 1 0 1 0 1 1 1-2 1-4 0-7 1-7 1-8 0-6 1-1 1 2 0 5 1 6 1 8 0 9 1 8 1 7 1 6 0 3 1 1 1-2 0-4 1-6 1-7 0-8 1-9 1-8 0-5 1-4 1 0 0 2 1 4 1 7 0 7 1 8 1 7 0 5 1 4 1 2 1 1 0-2 1-3 1-5 0-5 1-7 1-7 0-6 1-5 1-2 1 2 1 4 0 5 1 6 1 7 0 6 1 5 1 3 1 2 1-2 1-3 0-5 1-5 1-4 0-3 1-3 1-2 1 0 1 1 0 2 1 2 1 3 0 2 1 3 1 2 0 1 1 4 1 5 1 3 1-5 1-8 0-11 1-12 1-10 0-6 1-4 1 1 0 4 1 7 1 9 0 11 1 12 1 11 0 9 1 6 1 3 1-1 0-4 1-7 1-9 0-11 1-11 1-11 0-8 1-6 1-2 0 1 1 4 1 7 0 9 1 10 1 10 0 10 1 7 1 5 0 1 1-1 1-4 1-6 0-9 1-8 1-9 0-8 1-6 1-3 0-1 1 1 1 4 0 5 1 7 1 8 0 8 1 7 1 5 0 3 1 1 1-2 1-4 0-5 1-7 1-6 0-5 1-4 1-3 0-1 1 0 1 1 0 3 1 3 1 3 0 4 1 2 1 4 0 7 1 8 1 6 0 3 1-1 1-7 1-11 0-17 1-19 1-17 0-12 1-7 1 0 0 5 1 11 1 15 0 18 1 19 1 19 0 16 1 11 1 6 1-7 1-11 1-16 0-17 1-18 1-17 0-14 1-9 1-4 0 1 1 6 1 11 0 14 1 16 1 15 0 14 1 12 1 7 0 3 1-2 1-6 0-10 1-12 1-13 1-11 0-8 1-6 1-4 0-2 1 2 1 4 0 6 1 8 1 8 0 10 1 9 1 7 0 4 1 0 1-2 0-5 1-7 1-9 1-8 0-7 1-5 1-4 0-2 1 0 1 2 0 4 1 5 1 5 0 4 1 9 1 13 0 14 1 15 1 10 0 3 1-6 1-17 0-27 1-25 1-22 1-19 0-12 1-7 1 1 0 8 1 14 1 18 0 21 1 20 1 18 0 15 1 9 1 5 0-2 1-8 1-12 0-16 1-17 1-21 1-19 0-15 1-10 1-3 0 3 1 10 1 14 0 18 1 19 1 17 0 16 1 11 1 7 0 1 1-4 1-8 0-13 1-14 1-16 1-15 0-12 1-9 1-5 1 4 1 9 0 11 1 12 1 12 0 9 1 8 1 5 0 2 1-1 1-4 0-5 1-7 1-8 0-7 1-6 1-5 1-3 1 1 1 3 0 4 1 4 1 5 0 10 1 17 1 19 0 20 1 15 1 8 0-3 1-23 1-29 0-33 1-24 1-21 1-15 0-10 1-2 1 5 0 12 1 17 1 21 0 24 1 30 1 25 0 18 1 10 1 0 0-8 1-17 1-23 0-27 1-24 1-19 0-15 1-10 1-5 1 1 0 7 1 12 1 15 0 18 1 19 1 18 0 15 1 9 1 3 0-3 1-8 1-13 0-16 1-17 1-16 0-14 1-10 1-5 1-1 0 3 1 8 1 10 0 12 1 13 1 11 0 10 1 6 1 3 1-4 1-6 0-8 1-9 1-8 0-7 1-6 1-3 0-1 1 1 1 3 1 4 0 4 1 5 1 13 0 21 1 24 1 24 0 19 1 9 1-9 0-26 1-33 1-36 0-37 1-33 1-25 0-16 1-4 1 8 1 18 0 27 1 32 1 33 0 31 1 26 1 18 0 10 1 1 1-9 0-17 1-24 1-27 0-27 1-25 1-20 0-13 1-6 1 2 0 9 1 16 1 21 1 22 0 23 1 21 1 16 0 10 1 3 1-4 0-10 1-15 1-19 0-19 1-18 1-15 0-11 1-6 1 0 0 5 1 9 1 12 1 14 0 15 1 13 1 10 0 7 1 3 1-1 0-5 1-8 1-9 0-11 1-11 1-10 0-7 1-4 1-1 0 3 1 4 1 7 0 3 1 11 1 16 1 21 0 23 1 21 1 16 0 4 1-17 1-26 0-31 1-33 1-31 0-26 1-19 1-10 1 10 1 17 0 25 1 27 1 34 1 34 0 28 1 19 1 7 0-3 1-14 1-24 0-29 1-33 1-32 0-28 1-22 1-13 0-3 1 6 1 15 0 22 1 27 1 27 0 23 1 18 1 14 1 7 1-7 1-13 0-17 1-19 1-21 0-19 1-16 1-10 0-4 1 3 1 8 0 13 1 16 1 17 0 16 1 14 1 10 1 6 0 1 1-4 1-7 0-11 1-12 1-12 0-12 1-9 1-6 0-2 1 1 1 4 0 7 1 4 1 8 0 15 1 19 1 22 0 22 1 18 1 9 1-10 0-22 1-29 1-32 0-42 1-39 1-30 0-18 1-4 1 8 0 21 1 31 1 37 0 39 1 32 1 28 0 19 1 10 1 0 1-11 0-19 1-25 1-29 0-30 1-26 1-21 0-14 1-5 1 4 0 12 1 18 1 23 0 25 1 26 1 23 0 17 1 9 1 1 0-6 1-13 1-19 1-22 0-22 1-20 1-16 0-11 1-5 1 2 0 7 1 12 1 16 0 17 1 16 1 13 0 10 1 6 1 2 0-3 1-7 1-10 1-11 0-12 1-10 1-8 0-5 1-2 1 1 0 3 1 5 1 7 0 4 1 15 1 26 0 30 1 31 1 26 0 13 1-7 1-33 0-42 1-47 1-45 1-39 0-31 1-18 1-5 0 10 1 22 1 32 0 38 1 38 1 29 0 25 1 17 1 8 0-1 1-10 1-17 0-24 1-26 1-29 1-27 0-21 1-14 1-4 0 5 1 13 1 20 0 24 1 27 1 28 0 24 1 17 1 9 0 1 1-9 1-16 0-21 1-24 1-24 0-23 1-18 1-12 1-4 0 3 1 10 1 16 0 19 1 20 1 19 0 17 1 12 1 6 1-5 1-10 0-13 1-15 1-14 0-10 1-7 1-5 1-2 0 2 1 4 1 6 0 7 1 7 1 16 0 25 1 30 1 29 0 21 1 10 1-9 0-35 1-47 1-48 0-44 1-37 1-26 0-14 1 1 1 15 1 26 0 35 1 40 1 35 0 28 1 23 1 14 0 5 1-5 1-14 0-22 1-25 1-28 0-28 1-24 1-18 0-9 1 0 1 9 1 16 0 22 1 24 1 25 0 22 1 18 1 11 0 4 1-4 1-10 0-16 1-19 1-20 0-19 1-16 1-11 0-6 1 0 1 5 0 10 1 14 1 15 1 18 0 17 1 13 1 9 0 2 1-2 1-8 0-12 1-14 1-14 0-12 1-10 1-6 0-3 1 0 1 4 0 6 1 8 1 8 1 8 0 17 1 23 1 25 0 22 1 13 1 0 0-16 1-37 1-47 0-37 1-32 1-25 0-14 1-2 1 9 0 19 1 27 1 31 0 38 1 42 1 34 1 23 0 10 1-4 1-17 0-28 1-35 1-39 0-36 1-32 1-23 0-14 1-2 1 9 0 18 1 26 1 31 0 32 1 30 1 24 1 16 0 7 1-3 1-13 0-19 1-25 1-27 0-25 1-21 1-16 0-8 1-1 1 6 0 13 1 17 1 20 0 20 1 17 1 13 0 9 1 3 1-2 1-8 0-11 1-13 1-15 0-12 1-10 1-7 0-3 1 0 1 4 0 6 1 8 1 8 0 10 1 9 1 17 0 23 1 23 1 15 1 2 0-14 1-31 1-47 0-39 1-34 1-25 0-15 1-2 1 11 0 21 1 29 1 34 0 38 1 38 1 30 0 20 1 8 1-5 1-16 0-27 1-33 1-36 0-29 1-25 1-19 0-10 1 0 1 8 0 17 1 22 1 26 0 25 1 24 1 18 0 12 1 4 1-4 0-11 1-17 1-21 1-22 0-26 1-21 1-15 0-8 1 1 1 9 0 14 1 20 1 22 0 22 1 20 1 15 0 9 1 2 1-5 0-10 1-15 1-17 1-17 0-14 1-10 1-7 0-3 1 1 1 6 0 8 1 10 1 10 0 10 1 9 1 6 0 9 1 18 1 12 0 1 1-12 1-26 0-40 1-49 1-43 1-28 0-13 1 4 1 19 0 33 1 42 1 46 0 41 1 35 1 27 0 15 1 2 1-10 0-22 1-30 1-35 0-38 1-36 1-29 1-19 0-7 1 5 1 16 0 26 1 31 1 34 0 27 1 23 1 17 0 8 1 0 1-8 0-16 1-21 1-24 0-22 1-20 1-16 0-10 1-3 1 4 1 11 0 15 1 18 1 20 0 18 1 15 1 11 0 5 1-2 1-7 0-11 1-15 1-16 0-15 1-12 1-9 0-5 1 0 1 4 1 7 0 10 1 11 1 11 0 10 1 7 1 4 0 1 1-2 1 9 1-11 1-25 0-43 1-50 1-49 0-33 1 0 1 19 0 36 1 48 1 55 1 56 0 52 1 40 1 24 0 7 1-12 1-26 0-40 1-46 1-45 0-33 1-27 1-18 0-8 1 3 1 13 0 21 1 26 1 29 1 35 0 32 1 22 1 13 0 1 1-11 1-19 0-25 1-30 1-31 0-28 1-22 1-14 0-4 1 5 1 13 0 20 1 24 1 26 0 23 1 19 1 13 1 6 0-1 1-9 1-14 0-17 1-20 1-18 0-15 1-10 1-6 0-1 1 5 1 9 0 12 1 13 1 12 0 12 1 8 1 5 1 1 0-3 1-5 1-7 0-5 1-12 1-23 0-31 1-32 1-28 0-17 1-1 1 29 0 42 1 49 1 43 0 37 1 28 1 17 0 5 1-9 1-20 1-30 0-35 1-40 1-42 0-34 1-22 1-10 0 5 1 18 1 29 0 36 1 39 1 30 0 26 1 19 1 9 1-10 1-18 1-24 0-26 1-25 1-22 0-17 1-9 1-2 0 5 1 12 1 18 0 19 1 24 1 27 0 20 1 14 1 5 0-4 1-12 1-18 0-22 1-22 1-15 1-13 0-9 1-4 1 1 0 6 1 9 1 11 0 12 1 12 1 10 0 7 1 4 1 0 0-3 1-6 1-8 0-8 1-8 1-8 1-14 0-18 1-15 1-10 1 13 1 24 0 36 1 35 1 30 0 21 1 11 1-1 0-13 1-22 1-28 0-32 1-33 1-30 0-22 1-13 1-2 1 9 0 18 1 24 1 29 0 35 1 36 1 29 0 18 1 5 1-6 0-18 1-27 1-32 0-33 1-30 1-24 0-16 1-8 1 3 1 12 0 19 1 24 1 26 0 22 1 19 1 14 0 7 1 0 1-7 0-12 1-17 1-19 0-16 1-13 1-10 0-6 1-1 1 3 0 8 1 10 1 12 1 13 0 15 1 11 1 6 0 2 1-2 1-7 0-10 1-11 1-11 0-9 1-7 1-4 0-1 1-10 1-8 0 1 1 12 1 23 1 36 0 42 1 41 1 18 0 3 1-13 1-26 0-36 1-43 1-40 0-35 1-27 1-17 0-6 1 7 1 18 0 27 1 32 1 32 0 27 1 21 1 15 1 6 0-3 1-11 1-19 0-22 1-25 1-23 0-20 1-14 1-6 1 8 1 15 0 18 1 20 1 26 0 23 1 17 1 9 1 1 0-7 1-14 1-20 0-22 1-19 1-16 0-12 1-7 1-1 0 3 1 9 1 11 0 14 1 14 1 12 0 9 1 6 1 2 0-2 1-6 1-8 1-9 0-10 1-10 1-7 0-5 1-2 1 1 0 4 1 6 1 5 0 8 1 15 1 21 0 23 1 20 1 13 0 3 1-18 1-30 1-34 0-34 1-32 1-24 0-15 1-4 1 7 0 18 1 25 1 29 0 34 1 35 1 28 0 18 1 6 1-5 0-16 1-25 1-31 0-32 1-28 1-22 1-16 0-7 1 3 1 11 0 18 1 23 1 24 0 29 1 24 1 17 0 9 1-1 1-9 0-17 1-23 1-24 0-19 1-14 1-11 1-6 0-1 1 5 1 9 0 13 1 14 1 14 0 13 1 10 1 5 0 2 1-4 1-7 0-10 1-11 1-12 0-13 1-9 1-5 0-2 1 3 1 6 1 8 0 10 1 9 1 7 0 5 1 14 1 15 0 10 1 3 1-8 0-19 1-30 1-41 0-35 1-26 1-12 1 14 1 25 1 33 0 37 1 34 1 28 0 21 1 12 1 1 0-9 1-18 1-25 0-28 1-29 1-25 0-20 1-11 1-3 0 7 1 14 1 21 0 24 1 27 1 26 1 21 0 13 1 4 1-5 0-14 1-20 1-24 0-23 1-18 1-15 0-9 1-4 1 3 0 9 1 12 1 16 0 16 1 17 1 13 1 9 0 4 1-2 1-7 0-11 1-12 1-14 0-13 1-11 1-7 0-3 1 1 1 5 0 8 1 9 1 10 0 7 1 6 1 4 1 2 0-1 1-2 1 0 0-2 1-9 1-16 0-21 1-23 1-19 0-13 1 6 1 18 0 24 1 28 1 30 0 27 1 22 1 14 0 3 1-6 1-15 1-22 0-26 1-26 1-22 0-18 1-12 1-3 0 3 1 11 1 17 0 20 1 24 1 26 0 21 1 14 1 5 0-3 1-12 1-18 1-22 0-24 1-21 1-18 0-12 1-5 1 2 0 8 1 15 1 17 0 19 1 16 1 14 0 9 1 5 1-2 0-6 1-10 1-12 0-14 1-13 1-12 1-7 0-4 1 1 1 4 0 8 1 10 1 10 0 9 1 7 1 5 0 2 1 0 1-3 0-5 1-5 1-6 0-6 1-7 1-13 1-14 0-12 1-5 1 3 0 15 1 25 1 35 0 35 1 27 1 17 0 4 1-8 1-20 0-28 1-33 1-29 0-23 1-18 1-12 0-3 1 4 1 12 1 18 0 21 1 24 1 26 0 21 1 13 1 5 0-4 1-13 1-19 0-23 1-25 1-22 0-19 1-12 1-4 0 3 1 11 1 16 1 19 0 20 1 16 1 13 0 9 1 3 1-2 0-7 1-11 1-13 0-14 1-13 1-11 0-8 1-2 1 1 0 6 1 8 1 11 0 11 1 10 1 8 1 5 0 2 1-1 1-4 0-6 1-7 1-8 0-8 1-6 1-4 0-1 1 1 1 3 0-2 1 4 1 12 0 18 1 21 1 22 1 19 0 9 1-10 1-19 0-26 1-29 1-26 0-23 1-17 1-9 1 8 1 15 0 20 1 23 1 25 0 21 1 16 1 9 0 1 1-7 1-14 1-19 0-21 1-22 1-18 0-14 1-8 1 0 0 5 1 12 1 16 0 18 1 21 1 21 0 15 1 9 1 1 0-6 1-12 1-18 1-19 0-18 1-15 1-11 0-6 1-1 1 4 0 9 1 12 1 14 0 13 1 11 1 8 0 5 1 1 1-4 0-6 1-9 1-10 0-9 1-9 1-6 1-3 1 3 1 4 0 6 1 7 1 7 0 5 1 7 1 13 0 11 1 7 1-2 0-11 1-21 1-31 0-34 1-27 1-16 1-5 0 7 1 18 1 27 0 31 1 30 1 24 0 19 1 12 1 4 0-6 1-12 1-19 0-23 1-21 1-19 0-14 1-9 1-3 0 4 1 10 1 14 1 17 0 18 1 16 1 13 0 9 1 2 1-4 0-9 1-12 1-15 0-15 1-13 1-10 0-7 1-1 1 3 0 6 1 10 1 12 1 12 0 11 1 9 1 5 0 1 1-2 1-6 0-9 1-9 1-11 0-10 1-8 1-4 0-1 1 2 1 6 0 7 1 9 1 7 0 6 1 5 1 2 1 1 0-2 1-4 1-4 0-3 1-10 1-17 0-20 1-20 1-14 0-5 1 10 1 25 0 30 1 33 1 30 0 24 1 15 1 4 1-6 0-16 1-24 1-28 0-25 1-20 1-15 0-10 1-2 1 4 0 11 1 15 1 18 0 21 1 22 1 17 0 11 1 2 1-5 0-12 1-17 1-20 1-20 0-18 1-14 1-8 0-2 1 5 1 10 0 14 1 16 1 17 0 17 1 12 1 7 0 1 1-4 1-10 0-12 1-15 1-12 1-10 0-7 1-4 1 0 0 3 1 5 1 8 0 8 1 10 1 8 0 6 1 4 1 0 0-3 1-6 1-6 0-8 1-6 1-5 0-3 1-1 1-5 1-6 1 6 1 14 0 18 1 22 1 21 0 10 1 1 1-7 0-14 1-20 1-22 0-23 1-20 1-15 0-8 1 0 1 7 1 13 0 18 1 20 1 25 0 22 1 16 1 9 1-9 1-15 0-20 1-23 1-19 0-16 1-12 1-5 1 7 1 11 0 15 1 17 1 15 1 13 0 10 1 4 1-1 0-6 1-10 1-12 0-14 1-15 1-12 0-8 1-3 1 1 0 6 1 10 1 11 0 13 1 11 1 9 1 6 0 2 1-1 1-5 0-8 1-9 1-9 0-8 1-6 1-4 0-1 1 1 1 4 0 6 1 6 1 5 0 5 1 8 1 9 0 9 1 5 1-1 1-8 0-16 1-24 1-28 0-23 1-15 1-5 0 5 1 15 1 22 0 27 1 26 1 23 0 17 1 11 1 3 0-5 1-12 1-18 1-22 0-22 1-21 1-16 0-10 1-2 1 6 0 12 1 18 1 20 0 19 1 17 1 13 0 7 1 1 1-6 0-10 1-15 1-16 0-17 1-14 1-11 1-5 1 5 1 10 0 13 1 14 1 13 0 11 1 8 1 4 0-1 1-5 1-8 0-10 1-11 1-9 0-8 1-5 1-2 1 1 0 4 1 6 1 7 0 7 1 5 1 4 0 3 1 0 1-1 0-2 1-4 1-2 0-6 1-13 1-16 0-16 1-13 1-5 0 5 1 20 1 24 1 24 0 18 1 15 1 9 0 3 1-4 1-9 0-14 1-17 1-19 0-18 1-14 1-9 0-2 1 5 1 10 0 15 1 17 1 17 1 15 0 11 1 7 1 0 0-4 1-10 1-12 0-15 1-14 1-13 0-9 1-4 1 0 0 4 1 9 1 11 0 12 1 14 1 13 0 8 1 4 1-1 1-6 0-9 1-11 1-12 0-12 1-9 1-6 0-2 1 1 1 5 0 8 1 9 1 9 0 9 1 7 1 4 0 1 1-2 1-4 1-6 0-7 1-6 1-5 0-4 1-2 1 0 0-2 1-2 1 2 0 9 1 15 1 20 0 21 1 17 1 5 0-6 1-15 1-20 1-24 0-20 1-17 1-12 0-7 1-1 1 6 0 11 1 15 1 16 0 18 1 15 1 11 0 6 1-1 1-6 0-11 1-15 1-16 0-18 1-15 1-10 1-5 0 2 1 8 1 12 0 15 1 16 1 13 0 11 1 6 1 3 0-2 1-7 1-10 0-11 1-12 1-11 0-8 1-5 1-1 1 2 0 6 1 9 1 9 0 11 1 9 1 6 0 4 1 0 1-3 0-6 1-7 1-8 0-7 1-5 1-4 0-1 1 0 1 3 0 3 1 5 1 4 1 5 0 4 1 3 1 9 0 7 1 3 1-5 0-12 1-18 1-23 0-22 1-13 1-5 0 3 1 12 1 17 0 22 1 20 1 16 1 13 0 8 1 2 1-4 0-8 1-13 1-15 0-17 1-16 1-12 0-6 1-1 1 5 0 10 1 13 1 16 0 17 1 16 1 11 0 6 1-1 1-6 1-11 0-15 1-16 1-11 0-10 1-7 1-3 0 2 1 5 1 8 0 10 1 10 1 8 0 7 1 4 1 1 0-2 1-4 1-6 1-7 0-8 1-7 1-5 0-3 1 0 1 2 0 4 1 6 1 5 0 7 1 5 1 4 0 2 1-1 1-2 0-4 1-4 1-5 0-3 1-5 1-8 1-8 0-5 1-1 1 6 0 11 1 17 1 17 0 15 1 9 1 4 0-3 1-8 1-13 0-16 1-16 1-16 0-12 1-8 1-2 1 4 0 9 1 13 1 14 0 18 1 17 1 13 0 7 1 1 1-6 0-12 1-15 1-17 0-17 1-15 1-10 0-5 1 2 1 6 0 12 1 14 1 14 1 11 0 8 1 5 1 2 0-1 1-5 1-8 0-9 1-10 1-9 0-8 1-4 1-1 0 3 1 5 1 8 0 9 1 8 1 8 1 5 0 2 1 0 1-3 0-5 1-6 1-7 0-5 1-3 1-3 0-1 1 1 1 2 0 3 1 4 1 3 0 8 1 12 1 12 0 10 1 5 1-3 1-12 0-21 1-24 1-21 0-16 1-10 1-2 0 6 1 13 1 18 0 20 1 20 1 17 0 13 1 6 1 0 0-7 1-13 1-16 1-17 0-16 1-13 1-9 0-4 1 2 1 7 0 12 1 13 1 15 0 15 1 11 1 7 0 2 1-3 1-9 0-11 1-13 1-14 0-12 1-8 1-5 1 0 0 4 1 8 1 10 0 12 1 9 1 7 0 5 1 2 1-1 0-4 1-6 1-7 0-7 1-6 1-5 0-3 1-1 1 2 1 3 0 5 1 5 1 6 0 5 1 4 1 2 1-2 1-4 0-4 1-4 1-8 0-10 1-12 1-10 0-6 1 1 1 9 0 19 1 20 1 18 1 16 0 10 1 3 1-2 0-10 1-13 1-17 0-19 1-19 1-15 0-9 1-1 1 5 0 11 1 16 1 19 0 17 1 15 1 10 1 5 1-7 1-10 0-14 1-15 1-14 0-12 1-8 1-2 0 2 1 7 1 10 0 12 1 13 1 12 0 9 1 5 1 1 0-4 1-7 1-9 1-11 0-10 1-9 1-6 0-3 1 0 1 4 0 7 1 8 1 8 0 8 1 5 1 4 0 1 1-1 1-4 0-5 1-6 1-6 1-5 0-4 1-2 1 0 0 2 1 3 1 3 0 5 1 9 1 13 0 13 1 12 1 6 0-1 1-13 1-20 0-22 1-21 1-17 0-11 1-4 1 3 1 10 0 16 1 19 1 19 0 18 1 14 1 7 0 2 1-6 1-11 0-15 1-17 1-13 0-10 1-8 1-3 1 5 1 8 1 11 0 12 1 15 1 11 0 8 1 2 1-3 0-7 1-12 1-13 0-12 1-11 1-8 0-4 1-1 1 4 0 7 1 10 1 10 0 7 1 6 1 5 1 1 0-1 1-3 1-5 0-6 1-7 1-7 0-5 1-3 1 0 0 2 1 4 1 5 0 6 1 5 1 4 0 3 1 1 1 0 1-2 0-3 1-1 1-7 0-10 1-12 1-12 0-9 1-4 1 5 0 15 1 18 1 19 0 16 1 12 1 8 0 1 1-5 1-9 0-14 1-16 1-17 1-14 0-11 1-5 1 2 0 6 1 11 1 15 0 15 1 12 1 10 0 6 1 2 1-3 0-6 1-10 1-11 0-12 1-11 1-8 1-4 1 4 1 7 0 10 1 11 1 11 0 9 1 6 1 2 0-2 1-5 1-8 0-9 1-9 1-9 0-7 1-3 1-1 0 3 1 5 1 7 1 8 0 7 1 6 1 4 0 1 1-1 1-3 0-4 1-5 1-6 0-5 1-3 1-3 1 2 1 3 0 1 1 5 1 9 1 13 0 15 1 12 1 7 0-1 1-14 1-20 0-21 1-21 1-18 0-11 1-4 1 3 0 10 1 15 1 19 0 18 1 16 1 12 0 7 1 1 1-5 1-10 0-14 1-15 1-13 0-11 1-8 1-3 0 1 1 6 1 9 0 11 1 11 1 10 0 8 1 4 1 1 0-3 1-5 1-8 1-9 0-11 1-9 1-7 0-3 1 1 1 4 0 7 1 9 1 9 0 9 1 6 1 4 0 1 1-2 1-4 0-7 1-7 1-6 1-5 0-3 1-1 1 0 0 2 1 4 1 4 0 4 1 4 1 3 0 1 1 1 1-1 0-2 1-2 1-3 0-8 1-12 1-14 0-12 1-8 1 0 1 12 0 20 1 21 1 20 0 16 1 12 1 4 0-3 1-9 1-14 0-18 1-19 1-17 0-13 1-8 1-1 0 6 1 11 1 15 1 17 0 13 1 11 1 8 0 3 1-1 1-6 0-10 1-11 1-12 0-12 1-8 1-5 0-1 1 3 1 7 0 10 1 10 1 11 0 9 1 6 1 3 1-1 0-5 1-7 1-9 0-9 1-8 1-6 0-3 1-1 1 3 0 4 1 6 1 7 0 6 1 4 1 4 0 1 1-1 1-2 1-4 0-4 1-5 1-4 0-3 1-2 1 0 0 1 1 3 1 3 0 3 1 7 1 11 0 11 1 10 1 5 0-1 1-10 1-18 0-19 1-17 1-13 1-8 0-2 1 4 1 9 0 14 1 15 1 18 0 17 1 12 1 5 0-1 1-7 1-13 0-16 1-17 1-16 0-13 1-7 1-2 1 4 0 9 1 12 1 15 0 11 1 9 1 6 0 3 1 0 1-4 0-7 1-9 1-9 0-10 1-7 1-5 0-1 1 3 1 5 0 8 1 8 1 9 1 8 0 5 1 3 1-1 0-4 1-6 1-7 0-7 1-6 1-5 0-3 1 0 1 2 0 3 1 5 1 5 0 6 1 5 1 3 1 1 0-1 1-2 1-4 0-4 1-4 1-6 0-9 1-8 1-6 0-2 1 4 1 10 0 16 1 20 1 18 0 13 1 5 1-1 0-9 1-15 1-18 1-17 0-15 1-11 1-6 0-2 1 5 1 8 0 13 1 13 1 16 0 14 1 10 1 4 0-2 1-7 1-12 0-14 1-13 1-10 1-7 0-5 1 0 1 3 0 6 1 9 1 9 0 12 1 10 1 6 0 3 1-2 1-6 0-8 1-10 1-11 0-8 1-7 1-4 0 1 1 3 1 6 1 8 0 8 1 7 1 5 0 4 1 1 1-2 0-3 1-5 1-6 0-5 1-4 1-3 0-1 1 0 1 2 0 3 1 3 1 4 1 3 0 6 1 8 1 6 0 3 1-2 1-8 0-13 1-16 1-13 0-10 1-5 1 1 0 6 1 10 1 13 0 15 1 14 1 11 0 7 1 2 1-4 1-8 0-12 1-13 1-15 0-12 1-9 1-3 0 1 1 6 1 10 0 13 1 13 1 12 0 9 1 5 1 0 0-3 1-8 1-10 1-11 0-11 1-8 1-6 0-2 1 2 1 5 0 7 1 9 1 10 0 9 1 7 1 3 1-3 1-7 0-8 1-8 1-6 0-5 1-3 1-1 1 2 0 3 1 5 1 5 0 6 1 5 1 3 0 1 1 0 1-3 0-4 1-4 1-4 0-4 1-3 1-5 0-7 1-3 1 1 1 8 0 13 1 15 1 16 0 10 1 5 1-2 0-8 1-12 1-15 0-15 1-13 1-9 0-5 1-1 1 5 0 8 1 11 1 13 0 16 1 13 1 8 1 3 0-3 1-8 1-12 0-15 1-14 1-12 0-9 1-4 1 1 0 5 1 9 1 12 0 12 1 10 1 8 0 5 1 1 1-3 1-6 0-9 1-9 1-11 0-9 1-5 1-3 0 2 1 5 1 7 0 9 1 8 1 6 0 4 1 3 1-1 0-2 1-4 1-5 0-6 1-6 1-4 1-3 0-1 1 2 1 3 0 4 1 5 1 4 0 4 1 2 1 0 0 1 1 3 1-1 0-6 1-10 1-13 0-13 1-11 1-4 1 5 0 10 1 15 1 16 0 18 1 14 1 10 0 4 1-3 1-9 0-13 1-16 1-14 0-11 1-9 1-4 0 1 1 4 1 9 0 10 1 12 1 11 1 9 0 6 1 1 1-3 0-7 1-9 1-11 0-11 1-9 1-7 0-2 1 1 1 5 0 8 1 10 1 10 0 11 1 7 1 4 1-1 0-4 1-7 1-8 0-10 1-8 1-6 0-4 1-1 1 2 0 5 1 6 1 7 0 5 1 4 1 3 0 1 1-1 1-2 0-3 1-4 1-4 1-4 0-3 1-1 1 0 0 2 1 2 1 2 0 5 1 7 1 9 0 9 1 6 1 2 0-5 1-12 1-14 0-16 1-14 1-9 1-5 0 2 1 6 1 12 0 14 1 16 1 16 0 12 1 7 1 1 0-6 1-11 1-14 0-16 1-11 1-10 0-6 1-2 1 3 0 6 1 9 1 11 1 10 0 8 1 6 1 3 0-1 1-4 1-7 0-8 1-11 1-10 0-8 1-4 1 0 0 4 1 7 1 9 0 9 1 7 1 6 1 3 0 1 1-2 1-4 0-5 1-6 1-7 0-5 1-4 1-1 0 1 1 3 1 4 0 6 1 4 1 4 0 3 1 1 1 0 0-2 1-2 1-3 1-4 0-4 1-9 1-8 0-8 1-3 1 4 0 10 1 17 1 19 0 16 1 11 1 5 0-2 1-9 1-14 0-17 1-17 1-16 1-12 0-6 1 0 1 7 0 11 1 15 1 15 0 11 1 9 1 5 0 1 1-3 1-7 0-9 1-11 1-11 0-10 1-6 1-2 1 2 0 5 1 9 1 10 0 12 1 10 1 8 0 3 1-1 1-5 0-8 1-10 1-9 0-8 1-6 1-3 1 3 1 5 0 6 1 7 1 6 1 4 0 3 1 1 1-2 0-3 1-4 1-5 0-6 1-5 1-3 0-2 1 1 1 3 0 4 1 5 1 4 0 3 1 2 1 1 1 5 0 2 1-2 1-6 0-11 1-15 1-16 0-11 1-2 1 5 0 11 1 15 1 17 0 15 1 12 1 8 0 3 1-3 1-7 0-11 1-13 1-13 1-11 0-8 1-4 1 1 0 5 1 9 1 11 0 12 1 12 1 10 0 5 1 0 1-5 0-8 1-11 1-11 0-12 1-9 1-6 1-1 0 3 1 7 1 9 0 11 1 10 1 9 0 6 1 2 1-2 0-5 1-8 1-9 0-9 1-8 1-6 0-2 1 0 1 4 0 6 1 8 1 7 1 6 0 4 1 2 1 0 0-3 1-3 1-5 0-5 1-4 1-4 0-2 1 0 1 2 0 2 1 2 1 5 0 7 1 10 1 10 1 8 0 3 1-4 1-13 0-16 1-19 1-18 0-13 1-6 1 1 0 8 1 14 1 18 0 17 1 14 1 10 0 6 1 0 1-5 0-9 1-12 1-14 1-11 0-9 1-5 1-1 0 3 1 6 1 10 0 10 1 11 1 9 0 6 1 2 1-2 0-6 1-8 1-10 0-9 1-8 1-5 1-3 0 1 1 4 1 7 0 7 1 9 1 8 0 7 1 3 1-1 0-3 1-6 1-8 0-7 1-6 1-4 0-2 1 0 1 1 0 4 1 5 1 5 1 5 0 3 1 3 1 0 0-1 1-3 1-4 0-3 1-4 1-3 0-7 1-6 1-4 1 6 1 12 0 18 1 19 1 14 1 6 0-1 1-8 1-14 0-18 1-18 1-14 0-11 1-6 1-1 0 5 1 10 1 13 0 15 1 13 1 10 0 6 1 1 1-3 0-8 1-11 1-13 1-12 0-9 1-7 1-2 0 3 1 6 1 10 0 10 1 11 1 8 0 6 1 2 1-1 0-5 1-7 1-9 0-10 1-9 1-6 1-3 0 1 1 4 1 7 0 8 1 9 1 7 0 6 1 2 1 0 0-3 1-5 1-6 0-7 1-6 1-5 0-2 1 0 1 2 0 4 1 4 1 5 1 4 0 3 1 1 1 0 0-1 1 1 1-1 0-6 1-12" fill="none" stroke="#0000ff" stroke-width="1.2" stroke-linejoin="round"/>
<path transform="scale(0.1)" vector-effect="non-scaling-stroke" d="M3828 300l3 11 2 11 3 11 3 9 3 7 2 6 3 2 3 1 3 1 2 1 3 1 3 0 2 1 3 0 3 1 3 0 2 0 3 0 3 0 3-1 2-1 3 0 3-1 2-1 3-1 3 0 3-1 2 0 3 3 3 8 3 11 2 13 3 13 3 20 2 28 3 30 3 27 3 16 2 0 3-13 3-23 3-28 2-31 3-30 3-25 2-18 3-19 3-18 3-17 2-15 3-11 3-5 3-1 2 1 3 0 3 2 2 1 3 2 3 2 3 3 2 8 3 12 3 13 3 14 2 13 3 11 3 8 2 7 3 6 3 6 3 6 2 5 3 5 3 5 3 5 2 4 3 5 3 4 2 4 3 4 3 4 3 4 2 3 3 4 3 3 3 3 2 2 3 3 3 2 2 3 3 2 3 3 3 2 2 2 3 1 3 1 3 1 2 0 3-1 3-1 2-2 3-3 3-3 3-3 2-3 3-4 3-4 3-3 2-4 3-5 3-6 2-6 3-6 3-7 3-6 2-6 3-5 3-5 3-4 2-4 3-5 3-4 2-4 3-4 3-4 3-3 2-3 3-3 3-2 3-2 2-1 3-1 3 0 2 3 3 4 3 5 3 6 2 6 3 7 3 6 3 6 2 5 3 3 3 3 2 2 3 3 3 2 3 3 2 2 3 1 3 2 3 1 2 0 3 0 3 0 2 0 3 0 3 0 3 0 2 0 3 0 3 0 3 0 2 0 3-1 3-3 2-3 3-4 3-4 3-4 2-3 3-3 3-2 3-1 2 1 3 2 3 4 2 4 3 4 3 3 3 1 2-1 3-2 3-3 3-5 2-5 3-6 3-6 2-6 3-6 3-5 3-5 2-4 3-2 3-1 3 0 2 1 3 1 3 2 2 2 3 2 3 2 3 3 2 2 3 3 3 3 3 4 2 5 3 6 3 6 2 7 3 6 3 6 3 6 2 5 3 4 3 4 3 4 2 3 3 4 3 4 2 3 3 4 3 3 3 2 2 3 3 2 3 1 3 1 2 0 3-1 3-2 3-3 2-5 3-5 3-6 2-6 3-6 3-7 3-6 2-7 3-10 3-11 3-12 2-14 3-13 3-14 2-14 3-13 3-11 3-10 2-7 3-5 3-2 3 1 2 5 3 7 3 9 2 11 3 11 3 12 3 12 2 11 3 10 3 8 3 9 2 9 3 8 3 8 2 6 3 4 3 1 3 0 2-1 3 0 3-1 3-1 2-1 3-1 3-1 2-2 3-1 3-4 3-7 2-10 3-12 3-13 3-13 2-12 3-11 3-8 2-4 3-1 3 3 3 5 2 7 3 9 3 9 3 10 2 10 3 9 3 8 2 7 3 6 3 6 3 7 2 6 3 6 3 6 3 6 2 6 3 4 3 4 2 4 3 2 3 2 3 0 2-1 3-4 3-4 3-6 2-7 3-8 3-8 2-8 3-9 3-8 3-8 2-11 3-12 3-13 3-14 2-13 3-13 3-10 2-8 3-5 3-1 3 3 2 4 3 7 3 8 3 8 2 9 3 9 3 8 2 6 3 5 3 4 3 4 2 3 3 4 3 3 3 3 2 3 3 2 3 1 2 1 3 0 3-2 3-3 2-5 3-5 3-6 3-5 2-5 3-4 3-2 2-1 3 1 3 3 3 3 2 5 3 6 3 6 3 6 2 6 3 6 3 5 2 4 3 3 3 2 3 1 2-1 3-2 3-2 3-4 2-4 3-4 3-5 2-5 3-5 3-4 3-5 2-5 3-6 3-7 3-7 2-8 3-7 3-7 2-6 3-6 3-6 3-4 2-3 3-1 3 0 3 1 2 2 3 2 3 3 2 3 3 4 3 4 3 4 2 4 3 4 3 5 3 8 2 8 3 10 3 10 2 10 3 10 3 10 3 9 2 8 3 6 3 5 3 3 2 0 3-3 3-6 2-8 3-9 3-10 3-11 2-11 3-10 3-9 3-7 2-6 3-6 3-7 2-6 3-6 3-5 3-5 2-4 3-2 3-2 3 0 2 2 3 3 3 3 2 5 3 5 3 5 3 5 2 5 3 4 3 3 3 3 2 1 3-1 3-2 2-4 3-5 3-6 3-7 2-6 3-5 3-4 3-3 2-1 3 1 3 3 2 4 3 5 3 6 3 5 2 5 3 5 3 3 3 1 2-1 3-2 3-4 2-4 3-5 3-6 3-5 2-4 3-4 3-2 3-1 2 1 3 1 3 3 2 2 3 4 3 3 3 4 2 4 3 4 3 3 3 3 2 4 3 4 3 4 2 5 3 4 3 5 3 4 2 4 3 3 3 3 3 2 2 2 3 0 3-2 2-6 3-9 3-10 3-12 2-12 3-11 3-10 3-8 2-4 3-1 3 0 2 0 3 0 3 0 3 0 2 0 3 0 3 0 3 0 2 0 3 1 3 3 2 4 3 5 3 5 3 5 2 5 3 5 3 3 3 2 2 0 3-1 3 0 2-2 3-1 3-1 3-2 2-1 3-1 3-1 3 0 2 2 3 3 3 5 2 7 3 6 3 7 3 6 2 6 3 4 3 2 3-1 2-7 3-12 3-15 2-17 3-18 3-17 3-16 2-12 3-7 3-2 3 6 2 11 3 14 3 14 2 12 3 8 3 2 3-4 2-7 3-9 3-11 3-11 2-10 3-8 3-5 2-2 3 5 3 9 3 13 2 15 3 15 3 14 3 10 2 5 3-1 3-5 2-7 3-10 3-11 3-11 2-10 3-10 3-6 3-4 2 0 3 6 3 12 2 15 3 16 3 17 3 15 2 13 3 7 3 2 3-5 2-10 3-13 3-14 2-13 3-12 3-7 3-2 2 1 3 3 3 4 3 5 2 6 3 5 3 5 2 4 3 3 3 2 3 0 2-1 3-2 3-2 3-2 2-2 3-3 3-2 2-3 3-1 3-1 3-1 2-1 3-1 3-1 3-1 2-1 3 0 3-1 2-1 3 0 3-1 3 0 2 0 3 0 3 0 3 0 2 0 3 0 3 0 3 0 2 0 3 0 3 0 2 0 3 0 3 0 3 0 2 0 3-1 3-1 3-3 2-2 3-3 3-3 2-3 3-3 3-3 3-3 2-2 3-1 3-1 3 0 2 1 3 2 3 3 2 3 3 4 3 4 3 3 2 4 3 3 3 2 3 2 2 2 3 2 3 1 2 2 3 2 3 2 3 1 2 2 3 1 3 1 3 0 2 1 3 0 3-1 2-3 3-4 3-5 3-6 2-5 3-5 3-5 3-7 2-7 3-7 3-8 2-7 3-6 3-5 3-3 2-2 3 0 3 2 3 3 2 3 3 4 3 5 2 5 3 4 3 5 3 4 2 3 3 4 3 3 3 4 2 4 3 4 3 3 2 3 3 2 3 1 3 1 2-1 3-1 3-3 3-4 2-4 3-4 3-4 2-3 3-3 3-2 3 0 2 0 3 1 3 0 3 1 2 1 3 2 3 1 2 1 3 2 3 1 3 1 2 2 3 3 3 2 3 3 2 2 3 2 3 2 2 1 3 1 3-1 3-2 2-5 3-7 3-8 3-8 2-9 3-10 3-9 2-8 3-7 3-6 3-4 2-2 3 0 3 2 3 3 2 4 3 5 3 5 2 6 3 6 3 6 3 6 2 6 3 6 3 7 3 9 2 8 3 9 3 8 2 7 3 5 3 4 3 2 2-1 3-2 3-4 3-5 2-6 3-6 3-7 2-8 3-7 3-6 3-6 2-7 3-8 3-8 3-9 2-8 3-8 3-7 2-5 3-4 3-1 3 2 2 5 3 7 3 10 3 10 2 11 3 10 3 9 2 7 3 4 3 1 3-2 2-5 3-6 3-7 3-7 2-7 3-6 3-7 2-8 3-9 3-8 3-7 2-6 3-4 3-2 3 1 2 3 3 4 3 6 2 7 3 8 3 8 3 13 2 19 3 21 3 23 3 23 2 23 3 26 3 29 2 27 3 24 3 16 3 10 2 10 3 9 3 7 3 6 2 4 3 1" fill="none" stroke="#3c3cff" stroke-width="1.25" stroke-linejoin="round"/>
<line x1="383.1" y1="42.4" x2="627.9" y2="21.2" stroke="#1c1c1c" stroke-width="1.45" stroke-dasharray="4,0.5"/>
<path transform="scale(0.1)" vector-effect="non-scaling-stroke" d="M3843 1288l2 18 2 12 2 5 2-1 2-5 2-9 2-12 2-14 2-15 2-17 2-15 2-15 3-13 2-10 2-6 2-2 2 2 2 7 2 10 2 12 2 14 2 14 2 15 2 14 2 12 2 10 2 8 2 3 2-1 2-5 2-8 2-10 2-13 2-14 2-15 2-15 2-15 3-14 2-13 2-10 2-7 2-4 2-1 2 4 2 8 2 10 2 13 2 14 2 15 2 15 2 14 2 13 2 12 2 9 2 6 2 2 2-2 2-6 2-9 2-11 2-13 2-15 3-15 2-16 2-15 2-14 2-12 2-10 2-8 2-3 2 0 2 5 2 9 2 13 2 17 2 18 2 20 2 21 2 20 2 20 2 18 2 15 2 12 2 8 2 4 2-1 2-4 3-8 2-9 2-12 2-13 2-13 2-14 2-14 2-13 2-11 2-10 2-7 2-3 2-1 2 2 2 4 2 6 2 7 2 8 2 9 2 9 2 9 2 8 2 7 2 5 2 2 3 1 2-1 2-3 2-5 2-5 2-7 2-6 2-7 2-7 2-7 2-5 2-5 2-3 2-2 2 0 2 2 2 4 2 4 2 5 2 6 2 7 2 6 2 6 2 5 2 5 3 3 2 3 2 0 2-1 2-3 2-5 2-6 2-6 2-7 2-7 2-8 2-6 2-7 2-5 2-4 2-2 2-1 2 1 2 4 2 4 2 6 2 7 2 7 2 8 2 7 3 7 2 7 2 5 2 4 2 2 2 1 2-2 2-3 2-4 2-6 2-6 2-7 2-7 2-7 2-6 2-5 2-5 2-2 2-1 2 1 2 3 2 4 2 6 2 6 2 7 3 7 2 7 2 6 2 5 2 5 2 3 2 1 2-1 2-2 2-4 2-6 2-6 2-7 2-7 2-8 2-7 2-6 2-6 2-5 2-3 2-2 2 0 2 3 2 3 2 5 3 6 2 7 2 7 2 7 2 7 2 6 2 6 2 4 2 3 2 1 2-1 2-3 2-4 2-5 2-6 2-6 2-6 2-5 2-5 2-4 2-2 2 0 2 2 2 3 2 5 3 6 2 6 2 6 2 6 2 6 2 4 2 3 2 1 2-1 2-4 2-7 2-10 2-14 2-16 2-18 2-19 2-20 2-19 2-18 2-17 2-14 2-10 2-7 2-3 2 3 3 9 2 15 2 19 2 22 2 26 2 27 2 28 2 28 2 26 2 25 2 22 2 17 2 13 2 7 2 1 2-6 2-10 2-14 2-17 2-19 2-21 2-21 2-21 2-19 2-16 3-14 2-9 2-4 2 1 2 4 2 8 2 10 2 12 2 13 2 13 2 12 2 12 2 9 2 6 2 3 2-1 2-3 2-6 2-8 2-8 2-10 2-9 2-8 2-8 2-5 3-3 2 0 2 4 2 5 2 7 2 9 2 9 2 10 2 10 2 8 2 8 2 6 2 3 2 1 2-2 2-6 2-10 2-15 2-17 2-20 2-22 2-23 2-22 2-22 2-20 3-17 2-14 2-11 2-5 2 0 2 7 2 13 2 20 2 25 2 29 2 31 2 32 2 32 2 30 2 28 2 23 2 18 2 12 2 3 2-4 2-10 2-16 2-20 2-23 2-25 3-25 2-24 2-23 2-20 2-15 2-10 2-4 2 1 2 6 2 9 2 12 2 14 2 16 2 16 2 15 2 15 2 13 2 10 2 7 2 3 2-1 2-4 2-7 2-9 2-10 3-10 2-11 2-10 2-9 2-6 2-4 2 0 2 2 2 5 2 7 2 8 2 9 2 8 2 8 2 7 2 5 2 2 2 0 2-4 2-7 2-9 2-11 2-12 2-12 2-13 3-12 2-11 2-9 2-6 2-4 2 0 2 3 2 8 2 10 2 12 2 14 2 15 2 15 2 14 2 13 2 11 2 9 2 6 2 1 2-3 2-8 2-12 2-15 2-18 2-19 3-21 2-20 2-18 2-17 2-15 2-10 2-6 2-1 2 6 2 12 2 17 2 21 2 24 2 26 2 26 2 25 2 23 2 20 2 16 2 10 2 4 2-3 2-10 2-15 2-18 3-22 2-23 2-24 2-23 2-21 2-18 2-15 2-9 2-2 2 5 2 11 2 16 2 20 2 22 2 24 2 23 2 22 2 19 2 15 2 10 2 3 2-4 2-11 2-16 2-20 3-23 2-25 2-25 2-24 2-23 2-20 2-15 2-10 2-4 2 4 2 10 2 16 2 21 2 23 2 26 2 26 2 26 2 25 2 22 2 18 2 13 2 7 2 1 2-4 2-9 3-12 2-15 2-17 2-19 2-18 2-18 2-17 2-15 2-12 2-9 2-4 2 0 2 3 2 6 2 8 2 10 2 10 2 11 2 11 2 9 2 9 2 6 2 3 2 1 2-1 3-4 2-4 2-6 2-6 2-7 2-6 2-6 2-6 2-4 2-2 2 0 2 2 2 4 2 5 2 6 2 6 2 6 2 5 2 4 2 1 2-1 2-4 2-7 2-10 2-11 3-12 2-13 2-12 2-11 2-9 2-8 2-4 2-1 2 3 2 7 2 9 2 12 2 14 2 14 2 15 2 15 2 13 2 12 2 9 2 7 2 2 2 0 2-4 2-6 2-8 3-10 2-10 2-10 2-10 2-9 2-7 2-6 2-2 2-1 2 1 2 4 2 4 2 6 2 6 2 6 2 6 2 6 2 6 2 4 2 2 2 1 2-1 2-3 2-5 3-6 2-7 2-7 2-8 2-7 2-6 2-6 2-4 2-2 2 0 2 2 2 4 2 4 2 4 2 2 2-1 2-2 2-5 2-6 2-7 2-8 2-8 2-7 2-6 2-6 3-3 2-2 2 1 2 4 2 7 2 9 2 11 2 11 2 13 2 12 2 12 2 11 2 9 2 7 2 5 2 1 2-1 2-4 2-6 2-8 2-8 2-9 2-9 2-8 2-7 3-5 2-3 2 0 2 3 2 4 2 6 2 8 2 7 2 8 2 7 2 6 2 5 2 3 2 0 2-3 2-6 2-8 2-10 2-11 2-11 2-12 2-11 2-10 2-9 2-6 3-3 2 1 2 3 2 6 2 8 2 10 2 11 2 12 2 11 2 11 2 10 2 8 2 6 2 3 2 1 2-2 2-4 2-5 2-7 2-8 2-8 2-9 2-9 2-8 2-7 3-7 2-4 2-3 2-1 2 2 2 3 2 5 2 7 2 7 2 7 2 8 2 7 2 6 2 5 2 3 2 1 2 0 2-3 2-3 2-5 2-5 2-5 2-5 2-5 2-4 3-2 2-1 2 2 2 3 2 4 2 6 2 5 2 5 2 4 2 1 2-1 2-4 2-8 2-10 2-11 2-12 2-11 2-10 2-7 2-4 2 1 2 4 2 8 2 11 2 13 3 13 2 14 2 13 2 13 2 10 2 7 2 4 2-1 2-5 2-8 2-12 2-13 2-15 2-14 2-15 2-12 2-11 2-7 2-4 2 1 2 6 2 9 2 13 2 14 2 15 3 15 2 15 2 13 2 11 2 7 2 3 2-2 2-6 2-10 2-13 2-14 2-15 2-15 2-15 2-12 2-10 2-6 2-2 2 4 2 8 2 13 2 15 2 17 2 17 2 17 3 14 2 12 2 7 2 2 2-4 2-8 2-13 2-14 2-17 2-16 2-17 2-14 2-12 2-7 2-3 2 3 2 8 2 11 2 15 2 16 2 16 2 17 2 15 2 12 2 9 3 3 2-1 2-5 2-10 2-12 2-14 2-15 2-16 2-16 2-14 2-12 2-10 2-6 2-1 2 3 2 7 2 9 2 12 2 14 2 15 2 15 2 14 2 13 2 11 2 9 3 5 2 1 2-1 2-5 2-6 2-8 2-9 2-9 2-9 2-9 2-7 2-5 2-3 2 0 2 2 2 4 2 6 2 6 2 8 2 7 2 6 2 6 2 4 2 2 2 0 3-4 2-6 2-8 2-9 2-11 2-11 2-10 2-10 2-9 2-7 2-4 2-1 2 3 2 6 2 9 2 10 2 12 2 11 2 11 2 10 2 7 2 4 2 0 2-5 2-8 3-11 2-13 2-14 2-13 2-13 2-10 2-8 2-3 2 1 2 6 2 10 2 13 2 15 2 15 2 15 2 14 2 11 2 8 2 2 2-2 2-9 2-12 2-15 2-16 2-17 3-15 2-13 2-10 2-5 2 1 2 5 2 9 2 12 2 14 2 15 2 16 2 16 2 14 2 11 2 9 2 5 2 1 2-4 2-6 2-10 2-11 2-12 2-13 2-13 2-13 3-11 2-8 2-6 2-3 2 1 2 6 2 10 2 13 2 13 2 14 2 12 2 11 2 6 2 1 2-4 2-13 2-18 2-24 2-25 2-25 2-22 2-18 2-10 2 0 2 10 3 19 2 26 2 29 2 32 2 31 2 28 2 23 2 15 2 6 2-6 2-15 2-24 2-29 2-32 2-33 2-31 2-27 2-22 2-12 2-2 2 9 2 17 2 24 2 28 2 30 3 31 2 29 2 25 2 19 2 12 2 1 2-9 2-17 2-24 2-28 2-30 2-31 2-29 2-25 2-19 2-11 2-2 2 10 2 19 2 27 2 30 2 33 2 33 2 30 2 25 3 18 2 8 2-4 2-15 2-23 2-29 2-32 2-34 2-32 2-28 2-22 2-14 2-3 2 9 2 17 2 24 2 29 2 32 2 32 2 31 2 26 2 21 2 12 2 2 2-9 3-18 2-25 2-29 2-31 2-32 2-28 2-24 2-16 2-7 2 2 2 9 2 15 2 19 2 22 2 24 2 24 2 23 2 21 2 16 2 11 2 4 2-3 2-8 2-12 2-16 3-18 2-19 2-19 2-18 2-16 2-13 2-8 2-2 2 3 2 8 2 11 2 14 2 15 2 15 2 14 2 13 2 9 2 4 2 0 2-5 2-8 2-10 2-12 2-13 2-12 3-11 2-9 2-6 2-2 2 3 2 7 2 10 2 11 2 13 2 11 2 11 2 7 2 3 2-2 2-6 2-11 2-13 2-15 2-14 2-14 2-10 2-7 2-2 2 4 2 9 3 12 2 16 2 17 2 18 2 18 2 17 2 14 2 11 2 7 2 1 2-5 2-10 2-14 2-18 2-20 2-21 2-21 2-20 2-18 2-14 2-10 2-5 2 2 2 8 2 12 3 17 2 18 2 20 2 20 2 18 2 16 2 12 2 8 2 1 2-4 2-9 2-11 2-15 2-15 2-16 2-15 2-13 2-10 2-7 2-2 2 2 2 6 2 8 2 10 2 12 3 13 2 13 2 13 2 12 2 10 2 9 2 5 2 2 2-2 2-6 2-12 2-18 2-24" fill="none" stroke="#2a2aff" stroke-width="1.2" stroke-linejoin="round"/>
<line x1="384.8" y1="126.6" x2="629.1" y2="117.2" stroke="#1c1c1c" stroke-width="1.45" stroke-dasharray="4,0.5"/>
<path transform="scale(0.1)" vector-effect="non-scaling-stroke" d="M3839 2210l2-1 2-1 2-3 2-3 2-4 2-4 2-5 2-5 2-6 2-11 2-15 3-19 2-20 2-21 2-18 2-14 2-8 2-1 2 13 2 23 2 26 2 24 2 15 2 4 2 1 2 1 2 1 2 1 2 1 2 0 2 1 2 0 2 0 3-6 2-13 2-17 2-19 2-20 2-19 2-14 2-9 2 0 2 6 2 11 2 15 2 17 2 17 2 16 2 14 2 8 2 3 2 0 2 0 2 0 2 0 2 0 3 0 2 0 2 0 2 0 2-2 2-5 2-7 2-8 2-10 2-11 2-11 2-11 2-11 2-11 2-9 2-7 2-6 2-4 2-1 2 2 2 4 2 6 2 6 3 7 2 7 2 9 2 10 2 12 2 13 2 11 2 10 2 8 2 4 2 1 2-2 2-3 2-3 2-5 2-5 2-5 2-6 2-4 2-4 2-4 2-2 3 0 2 1 2 4 2 4 2 5 2 6 2 6 2 6 2 5 2 5 2 3 2 2 2 0 2-2 2-3 2-4 2-5 2-6 2-6 2-5 2-6 2-4 2-3 3-3 2 0 2 2 2 3 2 4 2 5 2 6 2 6 2 6 2 5 2 5 2 3 2 2 2 0 2-1 2-3 2-2 2-4 2-4 2-5 2-4 2-5 2-4 3-5 2-3 2-3 2-2 2-2 2 0 2 2 2 3 2 4 2 5 2 5 2 6 2 6 2 5 2 5 2 3 2 2 2 1 2-1 2-2 2-3 2-3 3-4 2-5 2-5 2-4 2-5 2-4 2-4 2-3 2-3 2-1 2 0 2 2 2 3 2 4 2 5 2 6 2 6 2 5 2 5 2 5 2 3 2 2 2 1 3-1 2-2 2-3 2-3 2-5 2-4 2-5 2-5 2-4 2-5 2-3 2-4 2-2 2-1 2 0 2 2 2 3 2 5 2 5 2 5 2 6 2 6 3 5 2 4 2 4 2 2 2 0 2-1 2-2 2-3 2-3 2-4 2-5 2-4 2-5 2-4 2-5 2-4 2-3 2-2 2-2 2 0 2 1 2 3 2 4 3 6 2 5 2 6 2 6 2 6 2 4 2 4 2 2 2 0 2-3 2-5 2-6 2-9 2-9 2-10 2-11 2-10 2-10 2-10 2-8 2-6 2-6 2-7 3-7 2-6 2-5 2-5 2-4 2-2 2 1 2 9 2 17 2 19 2 18 2 13 2 5 2 3 2 3 2 2 2 2 2 1 2 2 2 1 2 2 2 1 3 2 2 2 2 3 2 4 2 4 2 5 2 5 2 5 2 5 2 3 2 2 2 0 2-3 2-5 2-7 2-7 2-8 2-7 2-5 2-4 2-1 2 1 2 3 3 5 2 5 2 5 2 6 2 6 2 6 2 4 2 4 2 2 2 0 2-2 2-3 2-4 2-5 2-6 2-5 2-6 2-5 2-5 2-3 2-2 2-1 2 1 3 2 2 4 2 4 2 4 2 5 2 5 2 4 2 4 2 2 2 2 2-2 2-19 2-33 2-39 2-41 2-36 2-24 2-8 2 11 2 24 2 32 2 36 3 35 2 29 2 19 2 4 2-3 2-7 2-8 2-10 2-11 2-11 2-9 2-8 2-5 2-2 2 3 2 6 2 10 2 11 2 13 2 14 2 13 2 11 2 8 3 6 2 1 2-4 2-9 2-11 2-13 2-13 2-12 2-9 2-5 2-1 2 0 2 1 2 0 2 1 2 1 2 2 2 1 2 2 2 2 2 1 2 3 3 7 2 8 2 10 2 11 2 10 2 8 2 6 2 3 2-1 2-5 2-7 2-8 2-11 2-11 2-12 2-11 2-12 2-10 2-8 2-7 2-4 2-1 2 8 3 16 2 20 2 22 2 20 2 15 2 7 2 0 2 0 2 0 2 0 2 0 2-1 2 0 2 0 2 0 2 0 2-1 2 0 2-6 2-12 2-18 2-22 2-25 3-26 2-26 2-25 2-22 2-17 2-12 2-5 2 5 2 13 2 21 2 25 2 27 2 25 2 22 2 15 2 6 2 2 2 1 2 1 2 1 2 0 2 1 3 0 2 1 2 1 2 1 2 1 2 2 2 5 2 13 2 16 2 17 2 12 2 5 2-6 2-16 2-19 2-20 2-14 2-5 2 1 2 3 2 4 2 5 2 5 3 5 2 4 2 3 2 1 2-1 2-2 2-3 2-5 2-5 2-5 2-6 2-5 2-4 2-4 2-2 2-1 2 2 2 4 2 7 2 7 2 8 2 8 2 6 3 5 2 2 2 0 2-1 2-2 2-2 2-2 2-2 2-3 2-2 2-2 2-2 2-1 2 0 2 1 2 1 2 2 2 2 2 3 2 3 2 3 2 3 3 3 2 2 2 1 2 1 2-1 2-2 2-3 2-4 2-4 2-4 2-4 2-2 2-1 2 1 2 2 2 3 2 3 2 5 2 4 2 5 2 4 2 4 2 3 3 2 2 1 2-2 2-5 2-9 2-12 2-13 2-14 2-13 2-12 2-9 2-7 2-2 2 3 2 7 2 11 2 12 2 14 2 15 2 13 2 11 2 8 3 4 2-1 2-2 2-3 2-4 2-5 2-6 2-5 2-6 2-4 2-4 2-2 2-1 2 0 2 1 2 2 2 2 2 2 2 2 2 3 2 2 2 2 2 1 3 1 2 1 2 0 2 0 2-1 2 0 2-1 2-1 2-1 2 0 2-1 2-1 2 0 2 0 2 0 2 1 2 2 2 1 2 2 2 2 2 3 2 2 2 2 3 3 2 2 2 1 2 2 2 1 2 0 2-2 2-5 2-8 2-10 2-12 2-12 2-13 2-11 2-10 2-8 2-6 2-1 2 4 2 10 2 14 2 16 3 16 2 16 2 14 2 10 2 4 2 0 2-2 2-2 2-4 2-3 2-4 2-4 2-3 2-3 2-3 2-2 2 0 2 1 2 1 2 2 2 2 2 3 2 3 3 3 2 3 2 2 2 2 2 1 2 1 2-1 2-5 2-8 2-9 2-11 2-12 2-12 2-11 2-9 2-8 2-5 2-1 2 4 2 9 2 13 2 15 3 16 2 15 2 13 2 9 2 4 2-1 2-1 2-3 2-4 2-5 2-4 2-5 2-4 2-4 2-3 2-2 2-1 2 1 2 1 2 2 2 3 2 2 2 3 3 3 2 3 2 3 2 2 2 1 2 1 2 0 2-2 2-3 2-3 2-4 2-4 2-3 2-4 2-3 2-3 2-2 2 0 2 1 2 1 2 3 2 3 2 4 3 4 2 3 2 4 2 3 2 3 2 1 2 1 2-1 2-3 2-5 2-7 2-8 2-9 2-9 2-9 2-9 2-9 2-8 2-6 2-5 2-3 2-1 3 5 2 10 2 14 2 16 2 17 2 15 2 14 2 9 2 4 2-2 2-5 2-9 2-11 2-12 2-13 2-13 2-12 2-10 2-8 2-6 2-1 2 5 2 11 3 16 2 17 2 17 2 14 2 11 2 5 2-1 2-5 2-7 2-9 2-11 2-11 2-12 2-11 2-10 2-8 2-6 2-3 2 1 2 4 2 7 2 9 2 11 3 12 2 12 2 12 2 11 2 9 2 7 2 4 2 1 2-3 2-6 2-9 2-10 2-11 2-12 2-11 2-11 2-10 2-8 2-6 2-3 2 1 2 4 3 7 2 10 2 11 2 12 2 12 2 12 2 11 2 9 2 7 2 3 2 1 2-4 2-7 2-9 2-10 2-12 2-12 2-12 2-11 2-10 2-7 2-5 2-1 3 5 2 9 2 12 2 15 2 15 2 14 2 12 2 9 2 3 2 0 2-1 2-2 2-2 2-3 2-3 2-3 2-3 2-3 2-3 2-2 2-2 2-2 3-1 2-1 2 0 2 1 2 1 2 2 2 2 2 3 2 2 2 2 2 2 2 2 2 1 2 1 2 0 2-3 2-5 2-6 2-8 2-8 2-8 2-8 2-8 3-7 2-4 2-3 2 0 2 9 2 18 2 22 2 21 2 16 2 7 2-3 2-8 2-13 2-15 2-16 2-16 2-13 2-10 2-6 2 2 2 7 2 11 2 15 3 16 2 15 2 13 2 10 2 4 2-1 2-4 2-6 2-7 2-9 2-10 2-11 2-10 2-10 2-10 2-8 2-7 2-5 2-2 2 1 2 5 2 9 3 10 2 13 2 13 2 13 2 11 2 10 2 6 2 3 2 0 2-1 2-1 2-2 2-2 2-2 2-3 2-3 2-3 2-4 2-8 2-12 2-13 2-15 2-13 3-12 2-8 2-4 2 6 2 19 2 27 2 29 2 25 2 16 2 2 2-5 2-11 2-15 2-18 2-20 2-22 2-23 2-22 2-21 2-18 2-16 2-12 2-7 3-2 2 8 2 15 2 20 2 25 2 26 2 26 2 24 2 20 2 13 2 5 2-4 2-11 2-17 2-22 2-24 2-26 2-26 2-25 2-22 2-18 2-13 3-6 2 3 2 11 2 17 2 23 2 26 2 28 2 27 2 25 2 22 2 16 2 9 2 0 2-11 2-19 2-25 2-29 2-30 2-30 2-26 2-21 2-13 2-3 3 7 2 15 2 21 2 25 2 28 2 28 2 28 2 24 2 20 2 13 2 5 2-5 2-13 2-20 2-25 2-27 2-27 2-26 2-21 2-16 2-8 2 2 3 7 2 12 2 15 2 18 2 19 2 20 2 20 2 17 2 15 2 11 2 6 2 0 2-5 2-9 2-10 2-10 2-7 2-2 2 4 2 8 2 11 2 14 2 14 3 13 2 12 2 8 2 4 2 0 2-1 2 0 2-2 2-1 2-2 2-2 2-1 2-3 2-2 2-2 2-2 2-2 2-3 2-3 2-3 2-3 2-4 2-3 3-4 2-4 2-5 2-4 2-4 2-5 2-5 2-7 2-7 2-7 2-8 2-7 2-7 2-6 2-6 2-4 2-2 2-1 2 5 2 12 2 16 2 19 3 20 2 20 2 16 2 12 2 5 2-3 2-10 2-15 2-18 2-17 2-16 2-11 2-4 2 2 2 6 2 9 2 11 2 12 2 13 2 12 2 12 2 9 2 7 3 4 2 4 2 4 2 4 2 4 2 4 2 3 2 3 2 3 2 3 2 2 2 2 2 2 2 1 2 1 2 1 2 0 2-2 2-6 2-8 2-11 2-12 2-13 3-14 2-14 2-13 2-12 2-10 2-8 2-6 2-2 2 2 2 5 2 8 2 9 2 10 2 9 2 9 2 6 2 4 2-1 2-2 2-5 2-6 2-7 3-7 2-7 2-7 2-6 2-5 2-3 2 0 2 2 2 5 2 6 2 8 2 8" fill="none" stroke="#2020ff" stroke-width="1.15" stroke-linejoin="round"/>
<line x1="384.2" y1="213.9" x2="628.6" y2="210.0" stroke="#1c1c1c" stroke-width="1.45" stroke-dasharray="4,0.5"/>
<path transform="scale(0.1)" vector-effect="non-scaling-stroke" d="M3846 3117l1-57 1-48 1-39 1-28 1-19 1-9 1 4 1 25 0 39 1 44 1 40 1 28 1 8 1-5 1-12 1-16 1-19 1-21 1-21 1-20 1-17 1-13 1-6 1-1 0 3 1 4 1 5 1 6 1 7 1 8 1 7 1 7 1 6 1 5 1 3 1 2 1-1 1-6 1-9 1-10 0-12 1-12 1-10 1-9 1-5 1-2 1 6 1 14 1 19 1 23 1 23 1 23 1 20 1 14 1 8 1 0 1-8 0-13 1-16 1-20 1-20 1-20 1-18 1-14 1-10 1-4 1 2 1 7 1 11 1 13 1 15 1 14 1 15 0 12 1 10 1 6 1 1 1-4 1-7 1-10 1-13 1-14 1-17 1-17 1-18 1-17 1-17 1-15 1-14 0-11 1-8 1-4 1 0 1 11 1 21 1 29 1 35 1 36 1 37 1 34 1 29 1 20 1 11 1-1 1-3 1-5 0-7 1-8 1-8 1-9 1-8 1-8 1-8 1-6 1-4 1-3 1-1 1 1 1 1 1 1 1 1 1 1 1 1 1 0 1-1 1 0 1-1 1-2 1-1 1-4 1-7 1-9 1-12 1-14 1-14 1-14 1-15 0-14 1-13 1-11 1-10 1-8 1-5 1-5 1-6 1-7 1-7 1-9 1-9 1-9 1-9 1-9 1-7 1-7 0-5 1-3 1-1 1 1 1 4 1 6 1 8 1 9 1 11 1 11 1 12 1 12 1 13 1 11 1 11 1 11 0 9 1 8 1 7 1 7 1 8 1 8 1 9 1 9 1 8 1 9 1 7 1 7 1 6 1 4 1 2 1 1 0-3 1-6 1-8 1-9 1-12 1-12 1-13 1-14 1-13 1-13 1-11 1-11 1-8 1-7 1-7 1-7 1-7 0-7 1-7 1-7 1-6 1-6 1-5 1-5 1-4 1-4 1-2 1-2 1-1 1 0 1 2 1 4 1 5 0 5 1 7 1 8 1 9 1 9 1 10 1 10 1 10 1 10 1 11 1 10 1 10 1 10 1 9 1 12 1 12 1 14 0 14 1 15 1 15 1 13 1 13 1 12 1 9 1 8 1 5 1 2 1-2 1-6 1-11 1-13 1-16 1-18 0-18 1-19 1-19 1-17 1-15 1-13 1-10 1-8 1-8 1-8 1-8 1-8 1-7 1-8 1-7 1-7 0-6 1-7 1-6 1-6 1-5 1-5 1-4 1-4 1-4 1-3 1-2 1-2 1-1 1-1 1 1 1 2 1 3 0 3 1 4 1 4 1 4 1 5 1 4 1 4 1 5 1 5 1 5 1 6 1 5 1 7 1 7 1 7 1 10 0 11 1 13 1 13 1 14 1 13 1 13 1 12 1 10 1 8 1 6 1 3 1 0 1-4 1-8 1-12 1-15 0-18 1-18 1-18 1-18 1-16 1-13 1-10 1-6 1-1 1 4 1 11 1 14 1 20 1 22 1 25 1 26 1 27 0 26 1 25 1 24 1 21 1 17 1 15 1 9 1 0 1 0 1 0 1-3 1-9 1-10 1-12 1-11 1-12 0-12 1-11 1-10 1-10 1-9 1-8 1-7 1-7 1-6 1-6 1-5 1-6 1-7 1-8 1-9 1-10 0-10 1-9 1-10 1-9 1-9 1-7 1-7 1-5 1-5 1-5 1-4 1-3 1-3 1-3 1-3 1-2 1-3 0-4 1-3 1-3 1-2 1-3 1-2 1-3 1-2 1-2 1-1 1-2 1-1 1-2 1 0 1-1 1-1 1 0 1 2 1 4 1 6 1 8 1 9 1 10 1 11 1 13 1 12 1 14 1 13 1 14 1 13 1 14 0 12 1 12 1 11 1 10 1 9 1 9 1 9 1 10 1 10 1 9 1 10 1 8 1 9 1 7 1 6 1 5 1 4 0 2 1-1 1-6 1-13 1-18 1-22 1-25 1-27 1-27 1-26 1-25 1-22 1-18 1-13 1-7 1-1 0 1 1 3 1 3 1 4 1 5 1 6 1 6 1 7 1 6 1 7 1 7 1 7 1 7 1 9 1 11 1 12 0 13 1 13 1 13 1 13 1 13 1 12 1 11 1 10 1 7 1 5 1 1 1-1 1-4 1-7 1-9 1-12 1-14 0-16 1-17 1-19 1-19 1-19 1-18 1-16 1-14 1-11 1-8 1-5 1 0 1 2 1 7 1 11 1 15 0 18 1 19 1 21 1 19 1 19 1 16 1 13 1 10 1 5 1 0 1-4 1-9 1-11 1-14 1-15 1-16 0-16 1-15 1-14 1-12 1-10 1-7 1-3 1-1 1 5 1 8 1 12 1 14 1 15 1 17 1 16 1 16 1 15 0 14 1 12 1 9 1 5 1 5 1 4 1 4 1 4 1 3 1 4 1 3 1 3 1 2 1 2 1 1 1 1 0 1 1-1 1-9 1-18 1-25 1-29 1-33 1-34 1-35 1-32 1-29 1-24 1-17 1-8 1 1 1 9 0 15 1 19 1 23 1 25 1 24 1 24 1 21 1 17 1 12 1 4 1-3 1-8 1-13 1-16 1-19 1-20 1-21 0-20 1-19 1-16 1-12 1-8 1-2 1 5 1 10 1 15 1 19 1 22 1 24 1 24 1 25 1 23 1 20 0 18 1 13 1 7 1 2 1-1 1-3 1-3 1-5 1-6 1-6 1-8 1-7 1-8 1-9 1-8 1-8 0-9 1-8 1-7 1-7 1-8 1-9 1-9 1-9 1-10 1-10 1-10 1-11 1-9 1-10 1-8 1-9 1-7 0-6 1-5 1-3 1-2 1-1 1 0 1 0 1 1 1 0 1 1 1 1 1 1 1 1 1 1 1 2 1 1 0 2 1 3 1 10 1 19 1 24 1 29 1 32 1 34 1 33 1 31 1 28 1 23 1 16 1 8 1 0 1-7 1-11 0-15 1-18 1-21 1-22 1-23 1-22 1-22 1-21 1-17 1-15 1-11 1-7 1-7 1-7 1-7 1-7 0-6 1-6 1-5 1-5 1-5 1-4 1-3 1-3 1-2 1-1 1-1 1 2 1 7 1 12 1 16 1 20 0 22 1 23 1 25 1 26 1 25 1 24 1 23 1 20 1 17 1 14 1 9 1 4 1-1 1-5 1-8 1-10 1-13 0-14 1-16 1-17 1-18 1-18 1-18 1-17 1-17 1-15 1-13 1-11 1-9 1-5 1-3 1-2 1-3 0-2 1-3 1-2 1-2 1-1 1-2 1-2 1-1 1-1 1-1 1 0 1-1 1 0 1 0 1 3 1 4 0 5 1 6 1 8 1 8 1 10 1 10 1 10 1 10 1 11 1 10 1 10 1 9 1 9 1 8 1 10 1 11 1 11 0 10 1 11 1 9 1 8 1 7 1 4 1 1 1-1 1-4 1-5 1-7 1-9 1-10 1-10 1-12 1-12 0-12 1-12 1-11 1-11 1-11 1-9 1-9 1-10 1-11 1-12 1-13 1-13 1-14 1-13 1-12 1-11 0-9 1-6 1-4 1 0 1 2 1 5 1 7 1 8 1 11 1 11 1 13 1 13 1 13 1 13 1 14 1 12 1 12 0 12 1 14 1 16 1 17 1 19 1 18 1 16 1 15 1 12 1 8 1 4 1-2 1-6 1-9 1-13 1-16 0-18 1-19 1-20 1-20 1-19 1-18 1-16 1-14 1-10 1-8 1-9 1-8 1-8 1-8 1-8 1-6 0-6 1-5 1-5 1-3 1-2 1 0 1 3 1 7 1 10 1 13 1 16 1 17 1 19 1 19 1 20 1 19 1 18 0 17 1 15 1 13 1 14 1 14 1 14 1 14 1 15 1 13 1 13 1 11 1 10 1 8 1 5 1 3 1 0 0-3 1-5 1-6 1-8 1-10 1-11 1-13 1-13 1-14 1-14 1-15 1-15 1-15 1-14 1-14 1-12 0-13 1-14 1-16 1-17 1-18 1-18 1-16 1-15 1-12 1-9 1-4 1 1 1 10 1 17 1 22 1 26 1 30 0 31 1 30 1 30 1 27 1 22 1 16 1 10 1 5 1 6 1 5 1 4 1 4 1 3 1 3 1 1 1 1 1-2 1-1 1-3 1-3 1-6 1-8 1-12 1-13 1-15 1-15 1-16 1-15 1-16 1-14 1-13 0-11 1-10 1-8 1-5 1-4 1-5 1-5 1-5 1-6 1-7 1-6 1-6 1-6 1-6 1-4 1-4 1-2 0-3 1-2 1-1 1-1 1 0 1 0 1 1 1 2 1 2 1 2 1 3 1 3 1 3 1 4 1 4 1 5 0 4 1 5 1 5 1 5 1 5 1 5 1 6 1 7 1 9 1 11 1 12 1 14 1 13 1 13 1 13 1 11 0 9 1 7 1 4 1 1 1-3 1-5 1-7 1-9 1-11 1-12 1-12 1-14 1-13 1-13 1-12 1-12 1-10 0-9 1-6 1-4 1-4 1-4 1-3 1-3 1-3 1-3 1-3 1-3 1-2 1-2 1-2 1-2 1-1 1-1 1 0 1 3 1 7 1 9 1 11 1 13 1 15 1 14 1 15 1 15 1 14 1 13 1 11 1 8 0 6 1 6 1 5 1 6 1 5 1 5 1 5 1 4 1 3 1 3 1 3 1 1 1 1 1-1 1-5 1-9 1-11 0-14 1-15 1-17 1-16 1-17 1-16 1-14 1-12 1-10 1-7 1-4 1-4 1-4 1-4 1-4 1-3 0-3 1-3 1-2 1-2 1-2 1-1 1-1 1 0 1 2 1 4 1 8 1 9 1 11 1 13 1 13 1 15 1 14 0 15 1 15 1 13 1 13 1 11 1 9 1 7 1 4 1 3 1 3 1 3 1 2 1 3 1 2 1 2 1 2 0 1 1 2 1 1 1 0 1 1 1 0 1-2 1-4 1-7 1-9 1-11 1-11 1-13 1-14 1-14 1-14 0-14 1-14 1-13 1-11 1-11 1-8 1-7 1-5 1-6 1-6 1-5 1-5 1-5 1-5 1-4 1-3 1-3 0-2 1-1 1 0 1 5 1 10 1 14 1 18 1 21 1 23 1 24 1 25 1 26 1 25 1 23 1 22 1 19 0 15 1 12 1 7 1 1 1-2 1-4 1-6 1-8 1-10 1-10 1-11 1-12 1-11 1-12 1-11 1-11 0-10 1-11 1-13 1-14 1-14 1-15 1-15 1-14 1-14 1-14 1-12 1-11 1-9 1-8 1-5 1-3 1 1 0 5 1 10 1 13 1 17 1 19 1 20 1 21 1 22 1 21 1 19 1 17 1 15 1 11 1 8 1 8 1 8 0 7 1 8 1 7 1 6 1 7 1 6 1 5 1 5 1 4 1 4 1 3 1 3 1 1 1 1 1-1 1-3 0-7 1-9 1-11 1-13 1-15 1-16 1-17 1-18 1-18 1-19 1-18 1-18 1-18 1-16 1-15 1-13 1-13 0-13 1-13 1-14 1-13 1-11 1-9 1-6 1 0 1 0 1 6 1 9 1 12 1 14 1 16 1 17 1 18 0 18 1 18 1 17 1 16 1 15 1 12 1 12 1 13 1 13 1 13 1 13 1 13 1 11 1 11 1 9 1 7 0 6 1 2 1 1 1-4 1-9 1-11 1-15 1-17 1-19 1-21 1-22 1-21 1-22 1-21 1-20 1-18 1-15 0-13 1-9 1-6 1-1 1 0 1 1 1 1 1 1 1 1 1 2 1 2 1 2 1 2 1 4 1 7 1 10 0 12 1 15 1 16 1 17 1 17 1 16 1 15 1 14 1 12 1 8 1 7 1 7 1 6 1 7 1 6 1 6 0 5 1 5 1 4 1 4 1 3 1 2 1 2 1 0 1-1 1-4 1-5 1-8 1-9 1-10 1-11 1-12 1-12 0-13 1-13 1-12 1-13 1-11 1-11 1-10 1-8 1-8 1-8 1-9 1-9 1-8 1-9 1-7 1-8 0-6 1-6 1-5 1-3 1-2 1-1 1 3 1 5 1 9 1 11 1 12 1 15 1 15 1 15 1 16 1 15 0 15 1 13 1 12 1 12 1 14 1 14 1 14 1 12 1 12 1 9 1 6 1 3 1-3 1-10 1-16 1-21 1-25 0-28 1-29 1-29 1-28 1-25 1-23 1-17 1-12 1-4 1 4 1 10 1 16 1 21 1 24 1 27 1 28 0 28 1 27 1 25 1 21 1 16 1 12 1 9 1 8 1 9 1 7 1 7 1 7 1 5 1 4 1 3 1 2 0-1 1-4 1-9 1-12 1-15 1-17 1-18 1-19 1-19 1-18 1-17 1-15 1-13 1-9 1-7 1-6 1-6 0-5 1-4 1-3 1-3 1-3 1-2 1-3 1-3 1-4 1-4 1-4 1-5 1-6 1-6 1-6 1-6 0-6 1-5 1-5 1-5 1-4 1-3 1-1 1-1 1 2 1 6 1 9 1 11 1 14 1 15 1 17 1 17 0 17 1 17 1 16 1 15 1 12 1 11 1 10 1 10 1 11 1 11 1 10 1 11 1 10 1 9 1 9 1 8 1 7 0 6 1 5 1 3 1 2 1 1 1-12 1-26 1-36 1-45 1-48 1-48 1-45 1-38 1-28 1-11 1 0 0 10 1 20 1 25 1 30 1 33 1 34 1 33 1 31 1 27 1 22 1 14 1 6 1-1 1-2 1-2 1-2 0-2 1-1 1-1 1 0 1 1 1 2 1 3 1 3 1 3 1 5 1 2 1-2 1-4 1-8 1-11 1-14 1-16 0-17 1-19 1-19 1-19 1-19 1-18 1-17 1-13 1-11 1-8 1-8 1-8 1-6 1-6 1-5 1-4 0-2 1-1 1 0 1-1 1 1 1-1 1 0 1 0 1-1 1-1 1 2 1 6 1 9 1 12 1 14 1 16 1 17 0 18 1 17 1 17 1 16 1 13 1 12 1 9 1 7 1 7 1 7 1 7 1 6 1 6 1 4 1 3 1 2 0-1 1-5 1-11 1-14 1-18 1-19 1-21 1-21 1-20 1-19 1-17 1-13 1-8 1-5 1-5 1-5 0-4 1-4 1-4 1-3 1-4 1-3 1-3 1-2 1-3 1-2 1-2 1-1 1-1 1-1 1 0 1 1 1 4 0 7 1 10 1 12 1 14 1 15 1 17 1 17 1 17 1 16 1 14 1 12 1 11 1 10 1 6 1 4 1 0 0-4 1-9 1-12 1-15 1-18 1-19 1-19 1-20 1-20 1-19 1-17 1-15 1-12 1-8 1-3 1 0 0 10 1 17 1 24 1 29 1 32 1 34 1 35 1 35 1 31 1 29 1 23 1 16 1 9 1 2 1 2 1 1 1 2 0 1 1 1 1 1 1 1 1 1 1 0 1 1 1 0 1 0 1-3 1-11 1-16 1-22 1-26 1-28 1-31 0-31 1-32 1-31 1-29 1-25 1-22 1-17 1-11 1-2 1 2 1 11 1 18 1 22 1 26 1 29 1 30 0 29 1 29 1 25 1 23 1 17 1 11 1 3 1-2 1-3 1-4 1-6 1-7 1-8 1-8 1-10 1-9 1-9 0-9 1-9 1-9 1-9 1-11 1-12 1-12 1-13 1-14 1-14 1-14 1-13 1-13 1-12 1-11 1-11 0-8 1-7 1-6 1-2 1 0 1 7 1 19 1 26 1 33 1 37 1 39 1 40 1 38 1 34 1 29 1 21 0 12 1 1 1-5 1-9 1-14 1-17 1-20 1-22 1-23 1-25 1-25 1-25 1-24 1-22 1-20 1-18 1-14 0-11 1-6 1-1 1 5 1 10 1 14 1 17 1 20 1 22 1 23 1 24 1 23 1 22 1 21 1 18 1 15 0 11 1 6 1 1 1-6 1-11 1-16 1-20 1-23 1-25 1-27 1-27 1-27 1-25 1-24 1-20 1-17 0-13 1-6 1 0 1 4 1 11 1 15 1 20 1 22 1 25 1 27 1 27 1 28 1 27 1 25 1 24 1 20 1 17 0 12 1 7 1 1 1-2 1-3 1-5 1-7 1-7 1-9 1-10 1-11 1-11 1-11 1-12 1-12 1-12 0-12 1-11 1-11 1-10 1-9 1-10 1-10 1-11 1-11 1-12 1-12 1-11 1-11 1-10 1-10 1-8 0-8 1-6 1-4 1-2 1-1 1 1 1 1 1 3 1 3 1 4 1 5 1 5 1 5 1 6 1 6 1 7 1 6 0 7 1 7 1 7 1 7 1 9 1 10 1 10 1 12 1 11 1 12 1 12 1 10 1 10 1 9 1 8 1 7 0 6 1 4 1 2 1 1 1-1 1-3 1-5 1-6 1-9 1-9 1-10 1-10 1-12 1-12 1-12 1-14 0-13 1-13 1-12 1-11 1-9 1-6 1-3 1-1 1 2 1 4 1 5 1 8 1 9 1 10 1 10 1 10 1 11 0 10 1 10 1 10 1 9 1 8 1 7 1 7 1 7 1 7 1 8 1 7 1 7 1 7 1 7 1 6 1 6 0 5 1 5 1 3 1 3 1 2 1 0 1-2 1-6 1-8 1-11 1-12 1-14 1-14 1-16 1-15 1-15 0-15 1-13 1-12 1-10 1-7 1-5 1-1 1 4 1 9 1 13 1 17 1 19 1 20 1 21 1 21 1 19 1 18 0 15 1 13 1 8 1 4 1-1 1-4 1-7 1-9 1-12 1-13 1-13 1-14 1-12 1-11 1-9 1-11 0-11 1-11 1-12 1-13 1-12 1-11 1-11 1-10 1-10 1-9 1-9 1-8 1-6 1-6 1-4 1-3 1-2 0 1 1 6 1 12 1 16 1 20 1 23 1 24 1 24 1 24 1 23 1 19 1 16 1 12 1 6 1-1 1-4 0-7 1-9 1-11 1-13 1-13 1-14 1-13 1-12 1-11 1-8 1-6 1-3 1 2 1 9 1 15 1 19 0 22 1 24 1 25 1 25 1 22 1 20 1 16 1 10 1 4 1-5 1-13 1-20 1-25 1-30 1-33 1-33 1-34 0-32 1-30 1-24 1-20 1-12 1-3 1 4 1 10 1 15 1 18 1 20 1 22 1 22 1 21 1 20 1 16 0 13 1 7 1 1 1-3 1-7 1-9 1-11 1-12 1-13 1-14 1-13 1-13 1-11 1-9 1-7 1-4 1 1 1 2 1 2 1 3 1 4 1 4 1 5 1 5 1 5 1 6 1 6 1 5 1 7 1 10 1 13 1 15 0 17 1 18 1 18 1 18 1 17 1 14 1 11 1 9 1 4 1 0 1-3 1-7 1-8 1-9 1-10 1-10 0-10 1-8 1-7 1-5 1-3 1-1 1 2 1 4 1 7 1 8 1 9 1 9 1 9 1 9 1 8 1 6 0 5 1 4 1 1 1-1 1-4 1-7 1-10 1-12 1-13 1-15 1-16 1-17 1-17 1-17 1-18 1-17 1-16 0-17 1-15 1-14 1-13 1-11 1-9 1-7 1-3 1-1 1 1 1 2 1 3 1 4 1 6 1 7 1 7 0 8 1 9 1 10 1 11 1 12 1 12 1 14 1 14 1 15 1 15 1 15 1 15 1 14 1 15 1 14 1 14 0 13 1 11 1 9 1 7 1 6 1 4 1 2 1 1 1-1 1-2 1-2 1-3 1-4 1-5 1-9 1-12 1-14 0-16 1-17 1-17 1-18 1-17 1-16 1-15 1-13 1-12 1-8 1-6 1-2 1 0 1 1 1 0 1-1 0-1 1-1 1-1 1-2 1-1 1-1 1 1 1 1 1 2 1 4 1 4 1 4 1 4 1 3 1 2 1 0 0-1 1-3 1-5 1-6 1-8 1-8 1-10 1-9 1-10 1-8 1-9 1-7 1-6 1-5 1-2 1 2 1 5 0 9 1 10 1 13 1 15 1 16 1 16 1 15 1 15 1 14 1 11 1 10 1 10 1 10 1 9 1 10 1 8 0 8 1 6 1 5 1 4 1 2 1 0 1-1 1-3 1-6 1-12 1-16 1-19 1-21 1-22 1-23 1-21 0-20 1-17 1-13 1-9 1-5 1 2 1 6 1 9 1 12 1 13 1 14 1 14 1 14 1 12 1 11 1 8 1 5 0 1 1-2 1-6 1-7 1-9 1-11 1-11 1-11 1-10 1-10 1-9 1-6 1-5 1-2 1 0 1 4 0 15 1 22 1 27 1 31 1 30 1 27 1 23 1 15 1 5 1-4 1-12 1-17 1-22 1-24 1-27 1-26 0-26 1-23 1-20 1-14 1-9 1-2 1 2 1 4 1 6 1 7 1 8 1 9 1 10 1 10 1 9 1 10 1 9 0 8 1 6 1 6 1 5 1 5 1 5 1 5 1 5 1 5 1 5 1 4 1 5 1 3 1 4 1 3 1 3 0 2 1 1 1 1 1 0 1-4 1-7 1-11 1-13 1-15 1-16 1-16 1-16 1-15 1-14 1-11 1-8 0-4 1 0 1 6 1 11 1 15 1 19 1 20 1 22 1 23 1 21 1 21 1 17 1 14 1 9 1 4 1 5 1 4 0 4 1 4 1 5 1 5 1 5 1 4 1 5 1 4 1 4 1 4 1 2 1 2 1 0 1 0 1-2 1-2 0-6 1-9 1-11 1-14 1-14 1-15 1-16 1-16 1-15 1-14 1-13 1-12 1-10 1-8 1-6 1-5 1-6 0-7 1-10 1-10 1-12 1-12 1-13 1-12 1-12 1-10 1-8 1-6 1-1 1 7 1 13 1 20 1 24 0 28 1 30 1 30 1 30 1 28 1 24 1 19 1 14 1 5 1-2 1-7 1-13 1-16 1-19 1-21 1-23 0-24 1-23 1-23 1-21 1-19 1-17 1-12 1-8 1-3 1 2 1 5 1 8 1 10 1 12 1 13 1 14 1 13 0 13 1 12 1 10 1 8 1 5 1 1 1-2 1-4 1-5 1-8 1-8 1-8 1-9 1-9 1-7 1-6 0-5 1-3 1-1 1 4 1 7 1 11 1 14 1 15 1 17 1 18 1 17 1 17 1 15 1 12 1 10 1 5 0 1 1-2 1-5 1-6 1-9 1-10 1-11 1-12 1-12 1-12 1-13 1-11 1-10 1-10 1-7 1-5 1-3 0-1 1 1 1 2 1 3 1 3 1 4 1 4 1 4 1 5 1 4 1 4 1 4 1 4 1 3 1 3 1 2 0 1 1 1 1-2 1-2 1-5 1-5 1-6 1-7 1-8 1-7 1-8 1-8 1-7 1-6 1-5 1-3 0-2 1 0 1 3 1 5 1 8 1 9 1 11 1 12 1 12 1 13 1 13 1 12 1 11 1 10 1 8 1 6 1 3 0 1 1-2 1-8 1-13 1-17 1-20 1-21 1-22 1-21 1-20 1-17 1-13 1-10 1-3 1 2 1 8 0 13 1 17 1 20 1 23 1 25 1 26 1 26 1 26 1 25 1 23 1 22 1 19 1 15 1 10 1 5 1-1 0-9 1-18 1-25 1-31 1-36 1-41 1-44 1-47 1-49" fill="none" stroke="#1414ff" stroke-width="1.0" stroke-linejoin="round"/>
<line x1="384.7" y1="299.6" x2="629.1" y2="293.8" stroke="#1c1c1c" stroke-width="1.45" stroke-dasharray="4,0.5"/>
<rect x="636.6" y="21.7" width="42.60" height="25.70" fill="#fff" stroke="#c4c4c4" stroke-width="1.1"/>
<line x1="638.3000000000001" y1="28.60" x2="653.8000000000001" y2="28.60" stroke="#3c3cff" stroke-width="1.1"/>
<line x1="638.3000000000001" y1="40.70" x2="653.8000000000001" y2="40.70" stroke="#2a2a2a" stroke-width="1.3" stroke-dasharray="2.7,0.8"/>
<text x="655.09" y="31.40" style="font-size:9px;font-weight:bold;fill:#151515;" textLength="17.36" lengthAdjust="spacingAndGlyphs">4, F</text>
<text x="672.41" y="32.70" style="font-size:6.5px;font-weight:bold;fill:#151515;" textLength="4.01" lengthAdjust="spacingAndGlyphs">d</text>
<text x="654.87" y="42.90" style="font-size:9px;font-weight:bold;fill:#151515;" textLength="14.00" lengthAdjust="spacingAndGlyphs">ext</text>
<rect x="637.7" y="108.4" width="42.40" height="25.70" fill="#fff" stroke="#c4c4c4" stroke-width="1.1"/>
<line x1="639.4000000000001" y1="115.30" x2="654.9000000000001" y2="115.30" stroke="#3c3cff" stroke-width="1.1"/>
<line x1="639.4000000000001" y1="127.40" x2="654.9000000000001" y2="127.40" stroke="#2a2a2a" stroke-width="1.3" stroke-dasharray="2.7,0.8"/>
<text x="655.86" y="118.10" style="font-size:9px;font-weight:bold;fill:#151515;" textLength="17.59" lengthAdjust="spacingAndGlyphs">3, F</text>
<text x="673.41" y="119.40" style="font-size:6.5px;font-weight:bold;fill:#151515;" textLength="4.01" lengthAdjust="spacingAndGlyphs">d</text>
<text x="655.84" y="129.60" style="font-size:9px;font-weight:bold;fill:#151515;" textLength="20.54" lengthAdjust="spacingAndGlyphs">3ext</text>
<rect x="637.7" y="192.3" width="42.40" height="25.60" fill="#fff" stroke="#c4c4c4" stroke-width="1.1"/>
<line x1="639.4000000000001" y1="199.20" x2="654.9000000000001" y2="199.20" stroke="#3c3cff" stroke-width="1.1"/>
<line x1="639.4000000000001" y1="211.30" x2="654.9000000000001" y2="211.30" stroke="#2a2a2a" stroke-width="1.3" stroke-dasharray="2.7,0.8"/>
<text x="655.86" y="202.00" style="font-size:9px;font-weight:bold;fill:#151515;" textLength="17.59" lengthAdjust="spacingAndGlyphs">2, F</text>
<text x="673.41" y="203.30" style="font-size:6.5px;font-weight:bold;fill:#151515;" textLength="4.01" lengthAdjust="spacingAndGlyphs">d</text>
<text x="655.84" y="213.50" style="font-size:9px;font-weight:bold;fill:#151515;" textLength="20.54" lengthAdjust="spacingAndGlyphs">5ext</text>
<rect x="636.4" y="282.9" width="47.10" height="25.70" fill="#fff" stroke="#c4c4c4" stroke-width="1.1"/>
<line x1="638.1" y1="289.80" x2="653.6" y2="289.80" stroke="#3c3cff" stroke-width="1.1"/>
<line x1="638.1" y1="301.90" x2="653.6" y2="301.90" stroke="#2a2a2a" stroke-width="1.3" stroke-dasharray="2.7,0.8"/>
<text x="654.11" y="292.60" style="font-size:9px;font-weight:bold;fill:#151515;" textLength="17.96" lengthAdjust="spacingAndGlyphs">1, F</text>
<text x="672.01" y="293.90" style="font-size:6.5px;font-weight:bold;fill:#151515;" textLength="4.01" lengthAdjust="spacingAndGlyphs">d</text>
<text x="654.05" y="304.10" style="font-size:9px;font-weight:bold;fill:#151515;" textLength="27.03" lengthAdjust="spacingAndGlyphs">10ext</text>
<text x="459.18" y="9.30" style="font-size:10.2px;font-weight:bold;fill:#111;" textLength="14.13" lengthAdjust="spacingAndGlyphs" class="tt">IF</text>
<text x="473.21" y="11.20" style="font-size:7.6px;font-weight:bold;fill:#111;" textLength="12.77" lengthAdjust="spacingAndGlyphs">4,F</text>
<text x="486.14" y="12.60" style="font-size:5.8px;font-weight:bold;fill:#111;" textLength="3.67" lengthAdjust="spacingAndGlyphs">d</text>
<text x="496.70" y="9.30" style="font-size:10.2px;font-weight:bold;fill:#111;" textLength="11.37" lengthAdjust="spacingAndGlyphs" class="tt">vs</text>
<text x="513.00" y="9.30" style="font-size:10.2px;font-weight:bold;fill:#111;" textLength="13.37" lengthAdjust="spacingAndGlyphs" class="tt">IF</text>
<text x="526.59" y="11.50" style="font-size:7.4px;font-weight:bold;fill:#111;" textLength="25.08" lengthAdjust="spacingAndGlyphs">ext,th</text>
<text x="461.03" y="99.20" style="font-size:10.2px;font-weight:bold;fill:#111;" textLength="12.17" lengthAdjust="spacingAndGlyphs" class="tt">IF</text>
<text x="473.33" y="101.10" style="font-size:7.6px;font-weight:bold;fill:#111;" textLength="12.54" lengthAdjust="spacingAndGlyphs">3,F</text>
<text x="486.04" y="102.50" style="font-size:5.8px;font-weight:bold;fill:#111;" textLength="3.67" lengthAdjust="spacingAndGlyphs">d</text>
<text x="495.30" y="99.20" style="font-size:10.2px;font-weight:bold;fill:#111;" textLength="10.86" lengthAdjust="spacingAndGlyphs" class="tt">vs</text>
<text x="510.20" y="99.20" style="font-size:10.2px;font-weight:bold;fill:#111;" textLength="18.94" lengthAdjust="spacingAndGlyphs" class="tt">3IF</text>
<text x="529.72" y="101.40" style="font-size:7.4px;font-weight:bold;fill:#111;" textLength="22.63" lengthAdjust="spacingAndGlyphs">ext,th</text>
<text x="461.03" y="182.80" style="font-size:10.2px;font-weight:bold;fill:#111;" textLength="12.17" lengthAdjust="spacingAndGlyphs" class="tt">IF</text>
<text x="473.34" y="184.70" style="font-size:7.6px;font-weight:bold;fill:#111;" textLength="12.11" lengthAdjust="spacingAndGlyphs">2,F</text>
<text x="485.64" y="186.10" style="font-size:5.8px;font-weight:bold;fill:#111;" textLength="3.67" lengthAdjust="spacingAndGlyphs">d</text>
<text x="495.30" y="182.80" style="font-size:10.2px;font-weight:bold;fill:#111;" textLength="10.44" lengthAdjust="spacingAndGlyphs" class="tt">vs</text>
<text x="509.90" y="182.80" style="font-size:10.2px;font-weight:bold;fill:#111;" textLength="18.83" lengthAdjust="spacingAndGlyphs" class="tt">5IF</text>
<text x="529.42" y="185.00" style="font-size:7.4px;font-weight:bold;fill:#111;" textLength="22.43" lengthAdjust="spacingAndGlyphs">ext,th</text>
<text x="457.91" y="270.80" style="font-size:10.2px;font-weight:bold;fill:#111;" textLength="13.04" lengthAdjust="spacingAndGlyphs" class="tt">IF</text>
<text x="470.33" y="272.70" style="font-size:7.6px;font-weight:bold;fill:#111;" textLength="11.40" lengthAdjust="spacingAndGlyphs">1,F</text>
<text x="481.94" y="274.10" style="font-size:5.8px;font-weight:bold;fill:#111;" textLength="3.67" lengthAdjust="spacingAndGlyphs">d</text>
<text x="492.40" y="270.80" style="font-size:10.2px;font-weight:bold;fill:#111;" textLength="10.55" lengthAdjust="spacingAndGlyphs" class="tt">vs</text>
<text x="506.82" y="270.80" style="font-size:10.2px;font-weight:bold;fill:#111;" textLength="24.49" lengthAdjust="spacingAndGlyphs" class="tt">10IF</text>
<text x="532.72" y="273.00" style="font-size:7.4px;font-weight:bold;fill:#111;" textLength="22.63" lengthAdjust="spacingAndGlyphs">ext,th</text>
<text x="1.01" y="36.50" style="font-size:14.3px;" textLength="16.38" lengthAdjust="spacingAndGlyphs" class="pl">(a)</text>
<text x="321.59" y="37.00" style="font-size:14.3px;" textLength="17.82" lengthAdjust="spacingAndGlyphs" class="pl">(b)</text>
<text x="2.61" y="125.20" style="font-size:14.3px;" textLength="16.49" lengthAdjust="spacingAndGlyphs" class="pl">(c)</text>
<text x="323.10" y="126.70" style="font-size:14.3px;" textLength="17.60" lengthAdjust="spacingAndGlyphs" class="pl">(d)</text>
<text x="1.38" y="208.70" style="font-size:14.3px;" textLength="17.24" lengthAdjust="spacingAndGlyphs" class="pl">(e)</text>
<text x="324.78" y="208.30" style="font-size:14.3px;" textLength="15.59" lengthAdjust="spacingAndGlyphs" class="pl">(f)</text>
<text x="1.89" y="297.30" style="font-size:14.3px;" textLength="17.71" lengthAdjust="spacingAndGlyphs" class="pl">(g)</text>
<text x="325.12" y="300.40" style="font-size:14.3px;" textLength="16.84" lengthAdjust="spacingAndGlyphs" class="pl">(h)</text>
<text transform="translate(34.40,62.00) rotate(-90)" style="font-size:17px;font-style:italic;fill:#333;" textLength="6.93" lengthAdjust="spacingAndGlyphs">I</text>
<text transform="translate(34.40,51.63) rotate(-90)" style="font-size:17px;font-style:italic;fill:#333;" textLength="14.04" lengthAdjust="spacingAndGlyphs">M</text>
<text transform="translate(34.40,35.80) rotate(-90)" style="font-size:17px;font-style:italic;fill:#333;" textLength="10.64" lengthAdjust="spacingAndGlyphs">F</text>
<text transform="translate(36.70,25.21) rotate(-90)" style="font-size:11.5px;fill:#333;" textLength="7.84" lengthAdjust="spacingAndGlyphs">4,</text>
<text transform="translate(36.70,15.80) rotate(-90)" style="font-size:11.5px;font-style:italic;fill:#333;" textLength="6.90" lengthAdjust="spacingAndGlyphs">F</text>
<text transform="translate(38.00,9.51) rotate(-90)" style="font-size:8px;font-style:italic;fill:#333;" textLength="3.51" lengthAdjust="spacingAndGlyphs">d</text>
<text transform="translate(34.90,149.90) rotate(-90)" style="font-size:17px;font-style:italic;fill:#333;" textLength="6.93" lengthAdjust="spacingAndGlyphs">I</text>
<text transform="translate(34.90,139.53) rotate(-90)" style="font-size:17px;font-style:italic;fill:#333;" textLength="14.04" lengthAdjust="spacingAndGlyphs">M</text>
<text transform="translate(34.90,123.70) rotate(-90)" style="font-size:17px;font-style:italic;fill:#333;" textLength="10.64" lengthAdjust="spacingAndGlyphs">F</text>
<text transform="translate(37.20,113.45) rotate(-90)" style="font-size:11.5px;fill:#333;" textLength="8.20" lengthAdjust="spacingAndGlyphs">3,</text>
<text transform="translate(37.20,103.70) rotate(-90)" style="font-size:11.5px;font-style:italic;fill:#333;" textLength="6.90" lengthAdjust="spacingAndGlyphs">F</text>
<text transform="translate(38.50,97.41) rotate(-90)" style="font-size:8px;font-style:italic;fill:#333;" textLength="3.51" lengthAdjust="spacingAndGlyphs">d</text>
<text transform="translate(34.60,232.70) rotate(-90)" style="font-size:17px;font-style:italic;fill:#333;" textLength="6.93" lengthAdjust="spacingAndGlyphs">I</text>
<text transform="translate(34.60,222.33) rotate(-90)" style="font-size:17px;font-style:italic;fill:#333;" textLength="14.04" lengthAdjust="spacingAndGlyphs">M</text>
<text transform="translate(34.60,206.50) rotate(-90)" style="font-size:17px;font-style:italic;fill:#333;" textLength="10.64" lengthAdjust="spacingAndGlyphs">F</text>
<text transform="translate(36.90,196.13) rotate(-90)" style="font-size:11.5px;fill:#333;" textLength="8.08" lengthAdjust="spacingAndGlyphs">2,</text>
<text transform="translate(36.90,186.50) rotate(-90)" style="font-size:11.5px;font-style:italic;fill:#333;" textLength="6.90" lengthAdjust="spacingAndGlyphs">F</text>
<text transform="translate(38.20,180.21) rotate(-90)" style="font-size:8px;font-style:italic;fill:#333;" textLength="3.51" lengthAdjust="spacingAndGlyphs">d</text>
<text transform="translate(39.60,322.30) rotate(-90)" style="font-size:17px;font-style:italic;fill:#333;" textLength="6.93" lengthAdjust="spacingAndGlyphs">I</text>
<text transform="translate(39.60,311.93) rotate(-90)" style="font-size:17px;font-style:italic;fill:#333;" textLength="14.04" lengthAdjust="spacingAndGlyphs">M</text>
<text transform="translate(39.60,296.10) rotate(-90)" style="font-size:17px;font-style:italic;fill:#333;" textLength="10.64" lengthAdjust="spacingAndGlyphs">F</text>
<text transform="translate(41.90,286.35) rotate(-90)" style="font-size:11.5px;fill:#333;" textLength="8.75" lengthAdjust="spacingAndGlyphs">1,</text>
<text transform="translate(41.90,276.10) rotate(-90)" style="font-size:11.5px;font-style:italic;fill:#333;" textLength="6.90" lengthAdjust="spacingAndGlyphs">F</text>
<text transform="translate(43.20,269.81) rotate(-90)" style="font-size:8px;font-style:italic;fill:#333;" textLength="3.51" lengthAdjust="spacingAndGlyphs">d</text>
<text transform="translate(357.30,57.62) rotate(-90)" style="font-size:14.8px;font-style:italic;fill:#3c3c3c;" textLength="6.00" lengthAdjust="spacingAndGlyphs">f</text>
<text transform="translate(358.80,41.85) rotate(-90)" style="font-size:17.7px;fill:#555;" textLength="4.06" lengthAdjust="spacingAndGlyphs">[</text>
<text transform="translate(359.60,37.64) rotate(-90)" style="font-size:18px;font-style:italic;fill:#3c3c3c;" textLength="11.30" lengthAdjust="spacingAndGlyphs">H</text>
<text transform="translate(359.60,24.43) rotate(-90)" style="font-size:17px;font-style:italic;fill:#3c3c3c;" textLength="6.59" lengthAdjust="spacingAndGlyphs">z</text>
<text transform="translate(358.80,16.81) rotate(-90)" style="font-size:17.7px;fill:#555;" textLength="4.24" lengthAdjust="spacingAndGlyphs">]</text>
<text transform="translate(360.60,142.42) rotate(-90)" style="font-size:14.8px;font-style:italic;fill:#3c3c3c;" textLength="6.00" lengthAdjust="spacingAndGlyphs">f</text>
<text transform="translate(362.10,126.65) rotate(-90)" style="font-size:17.7px;fill:#555;" textLength="4.06" lengthAdjust="spacingAndGlyphs">[</text>
<text transform="translate(362.90,122.44) rotate(-90)" style="font-size:18px;font-style:italic;fill:#3c3c3c;" textLength="11.30" lengthAdjust="spacingAndGlyphs">H</text>
<text transform="translate(362.90,109.23) rotate(-90)" style="font-size:17px;font-style:italic;fill:#3c3c3c;" textLength="6.59" lengthAdjust="spacingAndGlyphs">z</text>
<text transform="translate(362.10,101.61) rotate(-90)" style="font-size:17.7px;fill:#555;" textLength="4.24" lengthAdjust="spacingAndGlyphs">]</text>
<text transform="translate(360.50,227.42) rotate(-90)" style="font-size:14.8px;font-style:italic;fill:#3c3c3c;" textLength="6.00" lengthAdjust="spacingAndGlyphs">f</text>
<text transform="translate(362.00,211.65) rotate(-90)" style="font-size:17.7px;fill:#555;" textLength="4.06" lengthAdjust="spacingAndGlyphs">[</text>
<text transform="translate(362.80,207.44) rotate(-90)" style="font-size:18px;font-style:italic;fill:#3c3c3c;" textLength="11.30" lengthAdjust="spacingAndGlyphs">H</text>
<text transform="translate(362.80,194.23) rotate(-90)" style="font-size:17px;font-style:italic;fill:#3c3c3c;" textLength="6.59" lengthAdjust="spacingAndGlyphs">z</text>
<text transform="translate(362.00,186.61) rotate(-90)" style="font-size:17.7px;fill:#555;" textLength="4.24" lengthAdjust="spacingAndGlyphs">]</text>
<text transform="translate(360.70,317.82) rotate(-90)" style="font-size:14.8px;font-style:italic;fill:#3c3c3c;" textLength="6.00" lengthAdjust="spacingAndGlyphs">f</text>
<text transform="translate(362.20,302.05) rotate(-90)" style="font-size:17.7px;fill:#555;" textLength="4.06" lengthAdjust="spacingAndGlyphs">[</text>
<text transform="translate(363.00,297.84) rotate(-90)" style="font-size:18px;font-style:italic;fill:#3c3c3c;" textLength="11.30" lengthAdjust="spacingAndGlyphs">H</text>
<text transform="translate(363.00,284.63) rotate(-90)" style="font-size:17px;font-style:italic;fill:#3c3c3c;" textLength="6.59" lengthAdjust="spacingAndGlyphs">z</text>
<text transform="translate(362.20,277.01) rotate(-90)" style="font-size:17.7px;fill:#555;" textLength="4.24" lengthAdjust="spacingAndGlyphs">]</text>
</svg></body></html>
